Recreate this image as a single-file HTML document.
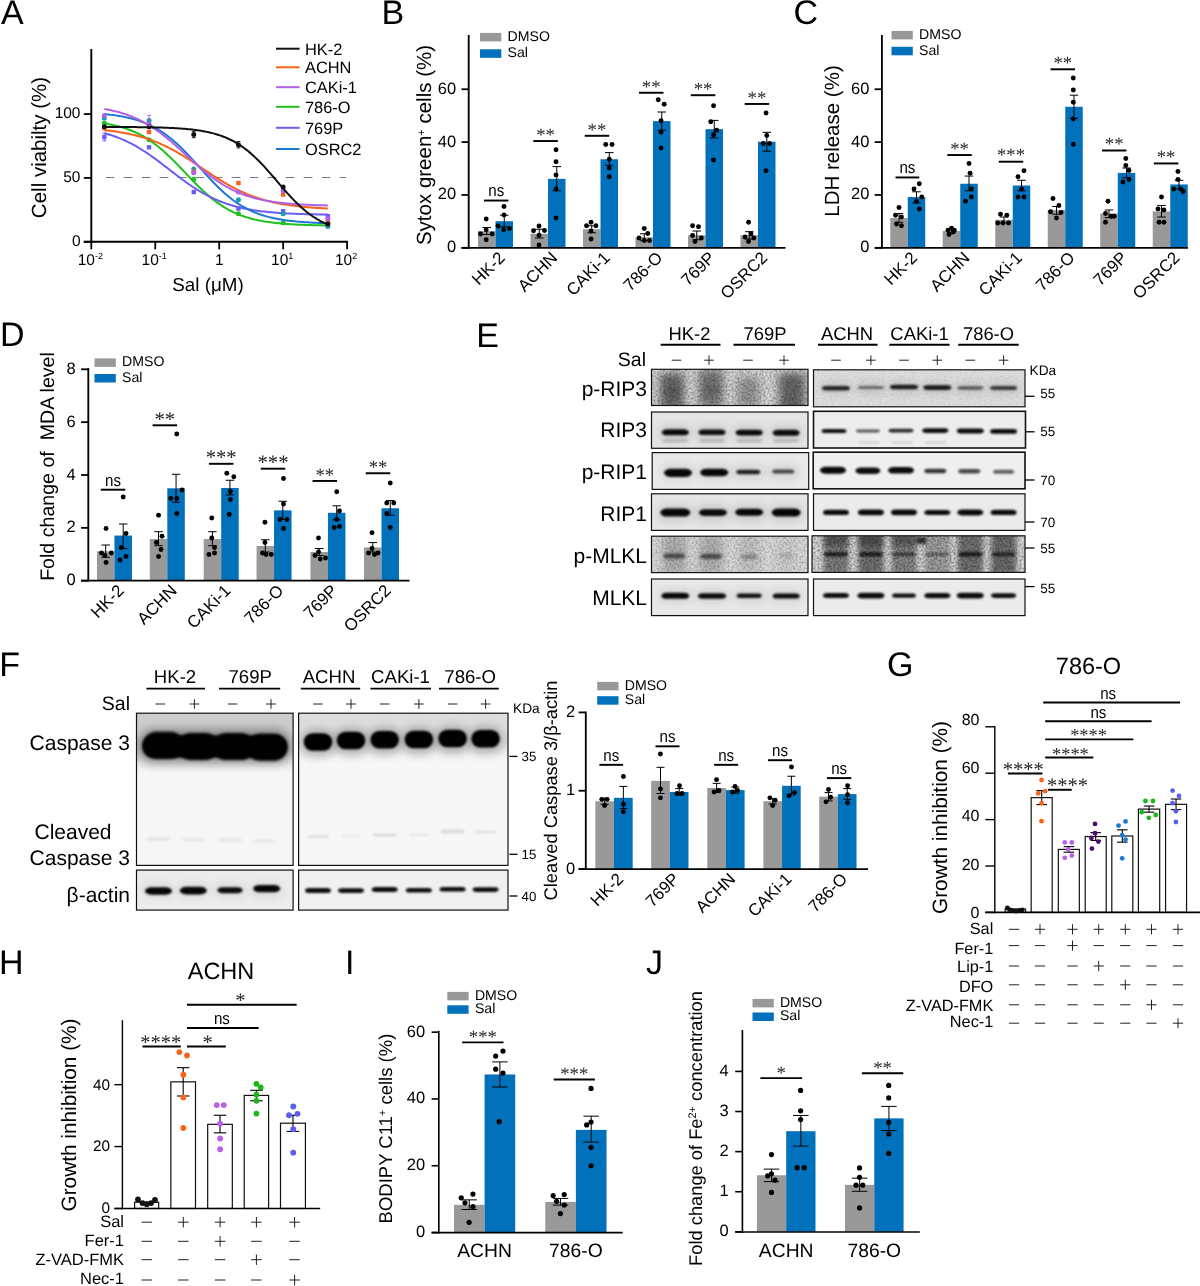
<!DOCTYPE html>
<html><head><meta charset="utf-8"><title>Figure</title><style>html,body{margin:0;padding:0;background:#fff}svg{display:block;will-change:transform;opacity:0.9999}</style></head><body><svg width="1200" height="1286" viewBox="0 0 1200 1286" text-rendering="geometricPrecision" shape-rendering="geometricPrecision"><defs><filter id="b06" x="-30%" y="-100%" width="160%" height="300%"><feGaussianBlur stdDeviation="0.6"/></filter><filter id="b09" x="-30%" y="-100%" width="160%" height="300%"><feGaussianBlur stdDeviation="0.9"/></filter><filter id="b12" x="-30%" y="-100%" width="160%" height="300%"><feGaussianBlur stdDeviation="1.2"/></filter><filter id="b16" x="-30%" y="-100%" width="160%" height="300%"><feGaussianBlur stdDeviation="1.6"/></filter><filter id="b25" x="-30%" y="-100%" width="160%" height="300%"><feGaussianBlur stdDeviation="2.5"/></filter><filter id="b40" x="-30%" y="-100%" width="160%" height="300%"><feGaussianBlur stdDeviation="4.0"/></filter><filter id="b70" x="-30%" y="-100%" width="160%" height="300%"><feGaussianBlur stdDeviation="7.0"/></filter><filter id="nzA" x="0" y="0" width="100%" height="100%" color-interpolation-filters="sRGB"><feTurbulence type="fractalNoise" baseFrequency="0.5" numOctaves="2" seed="4"/><feColorMatrix type="matrix" values="0 0 0 0 0  0 0 0 0 0  0 0 0 0 0  1.7 0 0 0 -0.62"/><feGaussianBlur stdDeviation="0.7"/></filter><filter id="nzB" x="0" y="0" width="100%" height="100%" color-interpolation-filters="sRGB"><feTurbulence type="fractalNoise" baseFrequency="0.5" numOctaves="2" seed="9"/><feColorMatrix type="matrix" values="0 0 0 0 0  0 0 0 0 0  0 0 0 0 0  1.5 0 0 0 -0.58"/><feGaussianBlur stdDeviation="0.7"/></filter><filter id="nzC" x="0" y="0" width="100%" height="100%" color-interpolation-filters="sRGB"><feTurbulence type="fractalNoise" baseFrequency="0.5" numOctaves="2" seed="2"/><feColorMatrix type="matrix" values="0 0 0 0 0  0 0 0 0 0  0 0 0 0 0  1.0 0 0 0 -0.4"/><feGaussianBlur stdDeviation="0.6"/></filter><clipPath id="cp1"><rect x="651.5" y="369.3" width="156.5" height="36.2"/></clipPath><clipPath id="cp2"><rect x="813.5" y="369.8" width="211.5" height="37"/></clipPath><clipPath id="cp3"><rect x="651.5" y="412" width="156.5" height="36.3"/></clipPath><clipPath id="cp4"><rect x="813.5" y="411.3" width="212" height="36.7"/></clipPath><clipPath id="cp5"><rect x="652.2" y="452.6" width="156.5" height="36.8"/></clipPath><clipPath id="cp6"><rect x="813.2" y="452.2" width="211.8" height="36.6"/></clipPath><clipPath id="cp7"><rect x="651.5" y="493.8" width="156.5" height="36.6"/></clipPath><clipPath id="cp8"><rect x="813.5" y="493.8" width="211.5" height="36.6"/></clipPath><clipPath id="cp9"><rect x="651.5" y="536.2" width="156.5" height="36.4"/></clipPath><clipPath id="cp10"><rect x="812" y="535.8" width="213" height="36.6"/></clipPath><clipPath id="cp11"><rect x="651.5" y="579" width="156.5" height="36.6"/></clipPath><clipPath id="cp12"><rect x="813.5" y="579" width="211.5" height="36.6"/></clipPath><clipPath id="cp13"><rect x="136.5" y="713.2" width="156.6" height="152.2"/></clipPath><clipPath id="cp14"><rect x="298.6" y="713.2" width="209.4" height="152.2"/></clipPath><clipPath id="cp15"><rect x="136.5" y="870.1" width="156.6" height="40"/></clipPath><clipPath id="cp16"><rect x="298.6" y="870.1" width="209.4" height="40"/></clipPath></defs><rect width="1200" height="1286" fill="#fff"/><text x="1" y="24.3" font-size="34" text-anchor="start" font-family='"Liberation Sans", sans-serif' fill="#000" >A</text>
<text x="381.5" y="24.3" font-size="34" text-anchor="start" font-family='"Liberation Sans", sans-serif' fill="#000" >B</text>
<text x="793.5" y="24.3" font-size="34" text-anchor="start" font-family='"Liberation Sans", sans-serif' fill="#000" >C</text>
<text x="0" y="346" font-size="34" text-anchor="start" font-family='"Liberation Sans", sans-serif' fill="#000" >D</text>
<line x1="91.3" y1="49" x2="91.3" y2="242.7" stroke="#000" stroke-width="1.9" stroke-linecap="butt" />
<line x1="83.8" y1="241.8" x2="347.9" y2="241.8" stroke="#000" stroke-width="1.9" stroke-linecap="butt" />
<line x1="83.8" y1="114.1" x2="91.3" y2="114.1" stroke="#000" stroke-width="1.8" stroke-linecap="butt" />
<text x="80.5" y="118.3" font-size="15.5" text-anchor="end" font-family='"Liberation Sans", sans-serif' fill="#000" >100</text>
<line x1="83.8" y1="177.95" x2="91.3" y2="177.95" stroke="#000" stroke-width="1.8" stroke-linecap="butt" />
<text x="80.5" y="182.15" font-size="15.5" text-anchor="end" font-family='"Liberation Sans", sans-serif' fill="#000" >50</text>
<line x1="83.8" y1="241.8" x2="91.3" y2="241.8" stroke="#000" stroke-width="1.8" stroke-linecap="butt" />
<text x="80.5" y="246" font-size="15.5" text-anchor="end" font-family='"Liberation Sans", sans-serif' fill="#000" >0</text>
<line x1="91.3" y1="241.8" x2="91.3" y2="249.3" stroke="#000" stroke-width="1.8" stroke-linecap="butt" />
<text x="90.3" y="265.3" font-size="15.5" text-anchor="middle" font-family='"Liberation Sans", sans-serif' fill="#000">10<tspan font-size="9" dy="-6.5">-2</tspan></text>
<line x1="155.25" y1="241.8" x2="155.25" y2="249.3" stroke="#000" stroke-width="1.8" stroke-linecap="butt" />
<text x="154.25" y="265.3" font-size="15.5" text-anchor="middle" font-family='"Liberation Sans", sans-serif' fill="#000">10<tspan font-size="9" dy="-6.5">-1</tspan></text>
<line x1="219.2" y1="241.8" x2="219.2" y2="249.3" stroke="#000" stroke-width="1.8" stroke-linecap="butt" />
<text x="219.2" y="265.3" font-size="15.5" text-anchor="middle" font-family='"Liberation Sans", sans-serif' fill="#000" >1</text>
<line x1="283.15" y1="241.8" x2="283.15" y2="249.3" stroke="#000" stroke-width="1.8" stroke-linecap="butt" />
<text x="282.15" y="265.3" font-size="15.5" text-anchor="middle" font-family='"Liberation Sans", sans-serif' fill="#000">10<tspan font-size="9" dy="-6.5">1</tspan></text>
<line x1="347.1" y1="241.8" x2="347.1" y2="249.3" stroke="#000" stroke-width="1.8" stroke-linecap="butt" />
<text x="346.1" y="265.3" font-size="15.5" text-anchor="middle" font-family='"Liberation Sans", sans-serif' fill="#000">10<tspan font-size="9" dy="-6.5">2</tspan></text>
<line x1="105.7" y1="177.5" x2="346" y2="177.5" stroke="#777" stroke-width="1" stroke-linecap="butt" stroke-dasharray="8.7 9.3"/>
<text x="46" y="147.5" font-size="20.5" text-anchor="middle" font-family='"Liberation Sans", sans-serif' fill="#000" transform="rotate(-90 46 147.5)" >Cell viabilty (%)</text>
<text x="208" y="291" font-size="18.8" text-anchor="middle" font-family='"Liberation Sans", sans-serif' fill="#000" >Sal (μM)</text>
<path d="M104.35 123.41 L106.22 123.71 L108.08 124.04 L109.94 124.4 L111.8 124.77 L113.67 125.17 L115.53 125.6 L117.39 126.06 L119.25 126.55 L121.12 127.07 L122.98 127.62 L124.84 128.21 L126.7 128.84 L128.57 129.51 L130.43 130.22 L132.29 130.96 L134.15 131.76 L136.02 132.6 L137.88 133.49 L139.74 134.42 L141.6 135.41 L143.47 136.45 L145.33 137.55 L147.19 138.69 L149.05 139.89 L150.92 141.15 L152.78 142.47 L154.64 143.84 L156.5 145.26 L158.36 146.74 L160.23 148.27 L162.09 149.86 L163.95 151.49 L165.81 153.18 L167.68 154.91 L169.54 156.68 L171.4 158.49 L173.26 160.34 L175.13 162.22 L176.99 164.12 L178.85 166.05 L180.71 168 L182.58 169.95 L184.44 171.92 L186.3 173.89 L188.16 175.85 L190.03 177.8 L191.89 179.74 L193.75 181.66 L195.61 183.56 L197.48 185.42 L199.34 187.26 L201.2 189.05 L203.06 190.81 L204.93 192.52 L206.79 194.19 L208.65 195.81 L210.51 197.37 L212.38 198.88 L214.24 200.34 L216.1 201.75 L217.96 203.09 L219.83 204.39 L221.69 205.62 L223.55 206.8 L225.41 207.93 L227.28 209 L229.14 210.02 L231 210.99 L232.86 211.91 L234.73 212.78 L236.59 213.6 L238.45 214.38 L240.31 215.11 L242.18 215.8 L244.04 216.45 L245.9 217.06 L247.76 217.64 L249.63 218.18 L251.49 218.69 L253.35 219.16 L255.21 219.61 L257.08 220.03 L258.94 220.42 L260.8 220.79 L262.66 221.13 L264.53 221.45 L266.39 221.75 L268.25 222.03 L270.11 222.29 L271.98 222.54 L273.84 222.77 L275.7 222.98 L277.56 223.18 L279.43 223.36 L281.29 223.53 L283.15 223.69 L285.01 223.84 L286.87 223.98 L288.74 224.11 L290.6 224.23 L292.46 224.35 L294.32 224.45 L296.19 224.55 L298.05 224.64 L299.91 224.72 L301.77 224.8 L303.64 224.87 L305.5 224.94 L307.36 225.01 L309.22 225.06 L311.09 225.12 L312.95 225.17 L314.81 225.22 L316.67 225.26 L318.54 225.3 L320.4 225.34 L322.26 225.37 L324.12 225.41 L325.99 225.44 L327.85 225.47" fill="none" stroke="#1fc11f" stroke-width="2.0"/>
<circle cx="104.35" cy="123.04" r="2.5" fill="#1fc11f"/>
<circle cx="149.05" cy="139.64" r="2.5" fill="#1fc11f"/>
<circle cx="193.75" cy="179.23" r="2.5" fill="#1fc11f"/>
<circle cx="238.45" cy="213.71" r="2.5" fill="#1fc11f"/>
<circle cx="283.15" cy="222.65" r="2.5" fill="#1fc11f"/>
<circle cx="327.85" cy="222.65" r="2.5" fill="#1fc11f"/>
<path d="M104.35 133.15 L106.22 133.67 L108.08 134.22 L109.94 134.8 L111.8 135.4 L113.67 136.04 L115.53 136.7 L117.39 137.4 L119.25 138.13 L121.12 138.89 L122.98 139.69 L124.84 140.52 L126.7 141.38 L128.57 142.28 L130.43 143.22 L132.29 144.19 L134.15 145.2 L136.02 146.24 L137.88 147.32 L139.74 148.43 L141.6 149.57 L143.47 150.75 L145.33 151.96 L147.19 153.19 L149.05 154.46 L150.92 155.76 L152.78 157.08 L154.64 158.42 L156.5 159.79 L158.36 161.17 L160.23 162.58 L162.09 163.99 L163.95 165.42 L165.81 166.85 L167.68 168.29 L169.54 169.74 L171.4 171.18 L173.26 172.62 L175.13 174.06 L176.99 175.48 L178.85 176.9 L180.71 178.29 L182.58 179.68 L184.44 181.04 L186.3 182.38 L188.16 183.7 L190.03 184.99 L191.89 186.26 L193.75 187.49 L195.61 188.7 L197.48 189.87 L199.34 191.01 L201.2 192.12 L203.06 193.19 L204.93 194.23 L206.79 195.23 L208.65 196.19 L210.51 197.13 L212.38 198.02 L214.24 198.88 L216.1 199.71 L217.96 200.5 L219.83 201.26 L221.69 201.99 L223.55 202.68 L225.41 203.34 L227.28 203.97 L229.14 204.57 L231 205.15 L232.86 205.69 L234.73 206.21 L236.59 206.7 L238.45 207.17 L240.31 207.61 L242.18 208.03 L244.04 208.43 L245.9 208.81 L247.76 209.16 L249.63 209.5 L251.49 209.82 L253.35 210.12 L255.21 210.41 L257.08 210.68 L258.94 210.93 L260.8 211.17 L262.66 211.4 L264.53 211.61 L266.39 211.81 L268.25 212 L270.11 212.18 L271.98 212.35 L273.84 212.5 L275.7 212.65 L277.56 212.79 L279.43 212.93 L281.29 213.05 L283.15 213.17 L285.01 213.28 L286.87 213.38 L288.74 213.48 L290.6 213.57 L292.46 213.65 L294.32 213.74 L296.19 213.81 L298.05 213.88 L299.91 213.95 L301.77 214.01 L303.64 214.07 L305.5 214.13 L307.36 214.18 L309.22 214.23 L311.09 214.28 L312.95 214.32 L314.81 214.36 L316.67 214.4 L318.54 214.43 L320.4 214.47 L322.26 214.5 L324.12 214.53 L325.99 214.56 L327.85 214.58" fill="none" stroke="#6b5cf6" stroke-width="2.0"/>
<rect x="102.15" y="134.89" width="4.4" height="4.4" fill="#6b5cf6" stroke="none" stroke-width="0" />
<rect x="146.85" y="145.1" width="4.4" height="4.4" fill="#6b5cf6" stroke="none" stroke-width="0" />
<rect x="191.55" y="189.8" width="4.4" height="4.4" fill="#6b5cf6" stroke="none" stroke-width="0" />
<rect x="236.25" y="206.4" width="4.4" height="4.4" fill="#6b5cf6" stroke="none" stroke-width="0" />
<rect x="280.95" y="208.95" width="4.4" height="4.4" fill="#6b5cf6" stroke="none" stroke-width="0" />
<rect x="325.65" y="214.06" width="4.4" height="4.4" fill="#6b5cf6" stroke="none" stroke-width="0" />
<path d="M104.35 114.04 L106.22 114.22 L108.08 114.42 L109.94 114.64 L111.8 114.87 L113.67 115.11 L115.53 115.38 L117.39 115.66 L119.25 115.96 L121.12 116.29 L122.98 116.63 L124.84 117 L126.7 117.4 L128.57 117.82 L130.43 118.28 L132.29 118.76 L134.15 119.27 L136.02 119.82 L137.88 120.4 L139.74 121.02 L141.6 121.69 L143.47 122.39 L145.33 123.13 L147.19 123.92 L149.05 124.76 L150.92 125.64 L152.78 126.57 L154.64 127.56 L156.5 128.6 L158.36 129.7 L160.23 130.85 L162.09 132.05 L163.95 133.32 L165.81 134.65 L167.68 136.03 L169.54 137.47 L171.4 138.97 L173.26 140.53 L175.13 142.14 L176.99 143.81 L178.85 145.54 L180.71 147.31 L182.58 149.13 L184.44 151 L186.3 152.91 L188.16 154.85 L190.03 156.83 L191.89 158.84 L193.75 160.87 L195.61 162.92 L197.48 164.99 L199.34 167.06 L201.2 169.13 L203.06 171.2 L204.93 173.25 L206.79 175.3 L208.65 177.32 L210.51 179.32 L212.38 181.29 L214.24 183.22 L216.1 185.12 L217.96 186.97 L219.83 188.78 L221.69 190.53 L223.55 192.24 L225.41 193.89 L227.28 195.48 L229.14 197.02 L231 198.5 L232.86 199.92 L234.73 201.29 L236.59 202.59 L238.45 203.84 L240.31 205.02 L242.18 206.16 L244.04 207.23 L245.9 208.25 L247.76 209.22 L249.63 210.14 L251.49 211.01 L253.35 211.83 L255.21 212.6 L257.08 213.33 L258.94 214.02 L260.8 214.66 L262.66 215.27 L264.53 215.84 L266.39 216.38 L268.25 216.88 L270.11 217.35 L271.98 217.79 L273.84 218.21 L275.7 218.59 L277.56 218.96 L279.43 219.29 L281.29 219.61 L283.15 219.91 L285.01 220.18 L286.87 220.44 L288.74 220.68 L290.6 220.9 L292.46 221.11 L294.32 221.31 L296.19 221.49 L298.05 221.66 L299.91 221.82 L301.77 221.97 L303.64 222.1 L305.5 222.23 L307.36 222.35 L309.22 222.46 L311.09 222.56 L312.95 222.66 L314.81 222.75 L316.67 222.83 L318.54 222.91 L320.4 222.98 L322.26 223.04 L324.12 223.11 L325.99 223.16 L327.85 223.22" fill="none" stroke="#1b79cf" stroke-width="2.0"/>
<circle cx="104.35" cy="117.93" r="2.5" fill="#1a9aae"/>
<circle cx="149.05" cy="120.49" r="2.5" fill="#1a9aae"/>
<circle cx="193.75" cy="169.01" r="2.5" fill="#1a9aae"/>
<circle cx="238.45" cy="199.66" r="2.5" fill="#1a9aae"/>
<circle cx="283.15" cy="213.71" r="2.5" fill="#1a9aae"/>
<circle cx="327.85" cy="226.48" r="2.5" fill="#1a9aae"/>
<path d="M104.35 130.19 L106.22 130.39 L108.08 130.6 L109.94 130.82 L111.8 131.06 L113.67 131.3 L115.53 131.56 L117.39 131.84 L119.25 132.13 L121.12 132.43 L122.98 132.75 L124.84 133.09 L126.7 133.45 L128.57 133.82 L130.43 134.22 L132.29 134.63 L134.15 135.07 L136.02 135.52 L137.88 136 L139.74 136.5 L141.6 137.03 L143.47 137.58 L145.33 138.16 L147.19 138.76 L149.05 139.39 L150.92 140.04 L152.78 140.72 L154.64 141.43 L156.5 142.17 L158.36 142.94 L160.23 143.74 L162.09 144.56 L163.95 145.42 L165.81 146.3 L167.68 147.21 L169.54 148.15 L171.4 149.12 L173.26 150.12 L175.13 151.14 L176.99 152.19 L178.85 153.27 L180.71 154.37 L182.58 155.49 L184.44 156.63 L186.3 157.79 L188.16 158.97 L190.03 160.17 L191.89 161.38 L193.75 162.6 L195.61 163.83 L197.48 165.07 L199.34 166.32 L201.2 167.57 L203.06 168.82 L204.93 170.07 L206.79 171.32 L208.65 172.57 L210.51 173.8 L212.38 175.03 L214.24 176.24 L216.1 177.44 L217.96 178.63 L219.83 179.79 L221.69 180.94 L223.55 182.07 L225.41 183.17 L227.28 184.25 L229.14 185.31 L231 186.34 L232.86 187.35 L234.73 188.32 L236.59 189.27 L238.45 190.19 L240.31 191.08 L242.18 191.95 L244.04 192.78 L245.9 193.58 L247.76 194.36 L249.63 195.11 L251.49 195.83 L253.35 196.52 L255.21 197.18 L257.08 197.81 L258.94 198.42 L260.8 199.01 L262.66 199.56 L264.53 200.1 L266.39 200.61 L268.25 201.09 L270.11 201.55 L271.98 202 L273.84 202.42 L275.7 202.81 L277.56 203.2 L279.43 203.56 L281.29 203.9 L283.15 204.23 L285.01 204.54 L286.87 204.83 L288.74 205.11 L290.6 205.37 L292.46 205.62 L294.32 205.86 L296.19 206.08 L298.05 206.3 L299.91 206.5 L301.77 206.69 L303.64 206.87 L305.5 207.04 L307.36 207.2 L309.22 207.35 L311.09 207.49 L312.95 207.63 L314.81 207.76 L316.67 207.88 L318.54 207.99 L320.4 208.1 L322.26 208.2 L324.12 208.3 L325.99 208.39 L327.85 208.48" fill="none" stroke="#f7621a" stroke-width="2.0"/>
<rect x="102.15" y="125.95" width="4.4" height="4.4" fill="#f7621a" stroke="none" stroke-width="0" />
<rect x="146.85" y="129.78" width="4.4" height="4.4" fill="#f7621a" stroke="none" stroke-width="0" />
<rect x="191.55" y="169.37" width="4.4" height="4.4" fill="#f7621a" stroke="none" stroke-width="0" />
<rect x="236.25" y="180.86" width="4.4" height="4.4" fill="#f7621a" stroke="none" stroke-width="0" />
<rect x="280.95" y="192.35" width="4.4" height="4.4" fill="#f7621a" stroke="none" stroke-width="0" />
<rect x="325.65" y="217.89" width="4.4" height="4.4" fill="#f7621a" stroke="none" stroke-width="0" />
<path d="M104.35 109.01 L106.22 109.34 L108.08 109.7 L109.94 110.08 L111.8 110.48 L113.67 110.91 L115.53 111.36 L117.39 111.84 L119.25 112.34 L121.12 112.88 L122.98 113.45 L124.84 114.04 L126.7 114.67 L128.57 115.34 L130.43 116.04 L132.29 116.77 L134.15 117.55 L136.02 118.36 L137.88 119.21 L139.74 120.11 L141.6 121.05 L143.47 122.02 L145.33 123.05 L147.19 124.11 L149.05 125.22 L150.92 126.38 L152.78 127.58 L154.64 128.82 L156.5 130.1 L158.36 131.43 L160.23 132.8 L162.09 134.21 L163.95 135.66 L165.81 137.15 L167.68 138.67 L169.54 140.22 L171.4 141.81 L173.26 143.42 L175.13 145.06 L176.99 146.72 L178.85 148.39 L180.71 150.08 L182.58 151.79 L184.44 153.49 L186.3 155.21 L188.16 156.92 L190.03 158.63 L191.89 160.32 L193.75 162.01 L195.61 163.68 L197.48 165.34 L199.34 166.97 L201.2 168.57 L203.06 170.15 L204.93 171.69 L206.79 173.21 L208.65 174.68 L210.51 176.12 L212.38 177.52 L214.24 178.88 L216.1 180.19 L217.96 181.47 L219.83 182.7 L221.69 183.88 L223.55 185.02 L225.41 186.12 L227.28 187.17 L229.14 188.18 L231 189.15 L232.86 190.08 L234.73 190.96 L236.59 191.8 L238.45 192.6 L240.31 193.37 L242.18 194.09 L244.04 194.78 L245.9 195.44 L247.76 196.06 L249.63 196.65 L251.49 197.2 L253.35 197.73 L255.21 198.23 L257.08 198.7 L258.94 199.14 L260.8 199.56 L262.66 199.96 L264.53 200.33 L266.39 200.68 L268.25 201.01 L270.11 201.32 L271.98 201.62 L273.84 201.89 L275.7 202.15 L277.56 202.39 L279.43 202.62 L281.29 202.84 L283.15 203.04 L285.01 203.23 L286.87 203.41 L288.74 203.57 L290.6 203.73 L292.46 203.88 L294.32 204.02 L296.19 204.14 L298.05 204.27 L299.91 204.38 L301.77 204.49 L303.64 204.58 L305.5 204.68 L307.36 204.77 L309.22 204.85 L311.09 204.92 L312.95 205 L314.81 205.06 L316.67 205.13 L318.54 205.19 L320.4 205.24 L322.26 205.29 L324.12 205.34 L325.99 205.39 L327.85 205.43" fill="none" stroke="#b35fe6" stroke-width="2.0"/>
<circle cx="104.35" cy="115.38" r="2.5" fill="#b35fe6"/>
<circle cx="149.05" cy="124.32" r="2.5" fill="#b35fe6"/>
<circle cx="193.75" cy="172.84" r="2.5" fill="#b35fe6"/>
<circle cx="238.45" cy="192" r="2.5" fill="#b35fe6"/>
<circle cx="283.15" cy="190.72" r="2.5" fill="#b35fe6"/>
<circle cx="327.85" cy="218.81" r="2.5" fill="#b35fe6"/>
<path d="M104.35 126.93 L106.22 126.94 L108.08 126.94 L109.94 126.95 L111.8 126.96 L113.67 126.96 L115.53 126.97 L117.39 126.98 L119.25 126.99 L121.12 127 L122.98 127.01 L124.84 127.02 L126.7 127.03 L128.57 127.05 L130.43 127.06 L132.29 127.08 L134.15 127.1 L136.02 127.12 L137.88 127.14 L139.74 127.16 L141.6 127.18 L143.47 127.21 L145.33 127.24 L147.19 127.27 L149.05 127.3 L150.92 127.34 L152.78 127.38 L154.64 127.42 L156.5 127.46 L158.36 127.51 L160.23 127.57 L162.09 127.62 L163.95 127.69 L165.81 127.75 L167.68 127.83 L169.54 127.91 L171.4 127.99 L173.26 128.09 L175.13 128.19 L176.99 128.3 L178.85 128.41 L180.71 128.54 L182.58 128.68 L184.44 128.83 L186.3 128.99 L188.16 129.16 L190.03 129.35 L191.89 129.55 L193.75 129.77 L195.61 130.01 L197.48 130.26 L199.34 130.54 L201.2 130.83 L203.06 131.15 L204.93 131.5 L206.79 131.87 L208.65 132.26 L210.51 132.69 L212.38 133.15 L214.24 133.64 L216.1 134.17 L217.96 134.74 L219.83 135.35 L221.69 136 L223.55 136.7 L225.41 137.44 L227.28 138.23 L229.14 139.08 L231 139.98 L232.86 140.93 L234.73 141.95 L236.59 143.02 L238.45 144.16 L240.31 145.36 L242.18 146.63 L244.04 147.96 L245.9 149.36 L247.76 150.83 L249.63 152.37 L251.49 153.97 L253.35 155.64 L255.21 157.38 L257.08 159.17 L258.94 161.03 L260.8 162.94 L262.66 164.9 L264.53 166.91 L266.39 168.97 L268.25 171.06 L270.11 173.18 L271.98 175.33 L273.84 177.5 L275.7 179.67 L277.56 181.86 L279.43 184.04 L281.29 186.21 L283.15 188.37 L285.01 190.5 L286.87 192.6 L288.74 194.67 L290.6 196.7 L292.46 198.68 L294.32 200.61 L296.19 202.48 L298.05 204.3 L299.91 206.05 L301.77 207.74 L303.64 209.37 L305.5 210.93 L307.36 212.42 L309.22 213.85 L311.09 215.2 L312.95 216.49 L314.81 217.72 L316.67 218.88 L318.54 219.97 L320.4 221.01 L322.26 221.99 L324.12 222.9 L325.99 223.77 L327.85 224.58" fill="none" stroke="#111111" stroke-width="2.0"/>
<circle cx="104.35" cy="126.87" r="2.5" fill="#111111"/>
<circle cx="149.05" cy="126.87" r="2.5" fill="#111111"/>
<circle cx="193.75" cy="134.53" r="2.5" fill="#111111"/>
<circle cx="238.45" cy="144.75" r="2.5" fill="#111111"/>
<circle cx="283.15" cy="186.89" r="2.5" fill="#111111"/>
<circle cx="327.85" cy="223.92" r="2.5" fill="#111111"/>
<line x1="149.05" y1="115.38" x2="149.05" y2="125.59" stroke="#b35fe6" stroke-width="0.9" stroke-linecap="butt" />
<line x1="147.05" y1="115.38" x2="151.05" y2="115.38" stroke="#b35fe6" stroke-width="0.9" stroke-linecap="butt" />
<line x1="147.05" y1="125.59" x2="151.05" y2="125.59" stroke="#b35fe6" stroke-width="0.9" stroke-linecap="butt" />
<line x1="193.75" y1="131.34" x2="193.75" y2="137.72" stroke="#111" stroke-width="0.9" stroke-linecap="butt" />
<line x1="191.75" y1="131.34" x2="195.75" y2="131.34" stroke="#111" stroke-width="0.9" stroke-linecap="butt" />
<line x1="191.75" y1="137.72" x2="195.75" y2="137.72" stroke="#111" stroke-width="0.9" stroke-linecap="butt" />
<line x1="238.45" y1="141.56" x2="238.45" y2="147.94" stroke="#111" stroke-width="0.9" stroke-linecap="butt" />
<line x1="236.45" y1="141.56" x2="240.45" y2="141.56" stroke="#111" stroke-width="0.9" stroke-linecap="butt" />
<line x1="236.45" y1="147.94" x2="240.45" y2="147.94" stroke="#111" stroke-width="0.9" stroke-linecap="butt" />
<line x1="104.35" y1="133.26" x2="104.35" y2="140.92" stroke="#6b5cf6" stroke-width="0.9" stroke-linecap="butt" />
<line x1="102.35" y1="133.26" x2="106.35" y2="133.26" stroke="#6b5cf6" stroke-width="0.9" stroke-linecap="butt" />
<line x1="102.35" y1="140.92" x2="106.35" y2="140.92" stroke="#6b5cf6" stroke-width="0.9" stroke-linecap="butt" />
<line x1="276" y1="48.7" x2="299.6" y2="48.7" stroke="#111111" stroke-width="2" stroke-linecap="butt" />
<text x="305" y="54.5" font-size="16.4" text-anchor="start" font-family='"Liberation Sans", sans-serif' fill="#000" >HK-2</text>
<line x1="276" y1="67.3" x2="299.6" y2="67.3" stroke="#f7621a" stroke-width="2" stroke-linecap="butt" />
<text x="305" y="73.1" font-size="16.4" text-anchor="start" font-family='"Liberation Sans", sans-serif' fill="#000" >ACHN</text>
<line x1="276" y1="87.2" x2="299.6" y2="87.2" stroke="#b35fe6" stroke-width="2" stroke-linecap="butt" />
<text x="305" y="93" font-size="16.4" text-anchor="start" font-family='"Liberation Sans", sans-serif' fill="#000" >CAKi-1</text>
<line x1="276" y1="106.8" x2="299.6" y2="106.8" stroke="#1fc11f" stroke-width="2" stroke-linecap="butt" />
<text x="305" y="112.6" font-size="16.4" text-anchor="start" font-family='"Liberation Sans", sans-serif' fill="#000" >786-O</text>
<line x1="276" y1="127.8" x2="299.6" y2="127.8" stroke="#6b5cf6" stroke-width="2" stroke-linecap="butt" />
<text x="305" y="133.6" font-size="16.4" text-anchor="start" font-family='"Liberation Sans", sans-serif' fill="#000" >769P</text>
<line x1="276" y1="149" x2="299.6" y2="149" stroke="#1b79cf" stroke-width="2" stroke-linecap="butt" />
<text x="305" y="154.8" font-size="16.4" text-anchor="start" font-family='"Liberation Sans", sans-serif' fill="#000" >OSRC2</text>
<rect x="478" y="231" width="17.5" height="16.8" fill="#999999" stroke="none" stroke-width="0" />
<rect x="495.5" y="221.2" width="17.5" height="26.6" fill="#0071bc" stroke="none" stroke-width="0" />
<rect x="530.5" y="233.8" width="17.5" height="14" fill="#999999" stroke="none" stroke-width="0" />
<rect x="548" y="178.85" width="17.5" height="68.95" fill="#0071bc" stroke="none" stroke-width="0" />
<rect x="583" y="229.25" width="17.5" height="18.55" fill="#999999" stroke="none" stroke-width="0" />
<rect x="600.5" y="159.25" width="17.5" height="88.55" fill="#0071bc" stroke="none" stroke-width="0" />
<rect x="635.5" y="237.3" width="17.5" height="10.5" fill="#999999" stroke="none" stroke-width="0" />
<rect x="653" y="121.1" width="17.5" height="126.7" fill="#0071bc" stroke="none" stroke-width="0" />
<rect x="688" y="235.2" width="17.5" height="12.6" fill="#999999" stroke="none" stroke-width="0" />
<rect x="705.5" y="129.15" width="17.5" height="118.65" fill="#0071bc" stroke="none" stroke-width="0" />
<rect x="740.5" y="235.2" width="17.5" height="12.6" fill="#999999" stroke="none" stroke-width="0" />
<rect x="758" y="141.75" width="17.5" height="106.05" fill="#0071bc" stroke="none" stroke-width="0" />
<line x1="468.7" y1="35" x2="468.7" y2="248.7" stroke="#000" stroke-width="1.85" stroke-linecap="butt" />
<line x1="461.5" y1="247.8" x2="785.5" y2="247.8" stroke="#000" stroke-width="1.75" stroke-linecap="butt" />
<line x1="461.5" y1="247.8" x2="468.7" y2="247.8" stroke="#000" stroke-width="1.8" stroke-linecap="butt" />
<text x="456.2" y="252.3" font-size="16.5" text-anchor="end" font-family='"Liberation Sans", sans-serif' fill="#000" >0</text>
<line x1="461.5" y1="194.95" x2="468.7" y2="194.95" stroke="#000" stroke-width="1.8" stroke-linecap="butt" />
<text x="456.2" y="199.45" font-size="16.5" text-anchor="end" font-family='"Liberation Sans", sans-serif' fill="#000" >20</text>
<line x1="461.5" y1="142.1" x2="468.7" y2="142.1" stroke="#000" stroke-width="1.8" stroke-linecap="butt" />
<text x="456.2" y="146.6" font-size="16.5" text-anchor="end" font-family='"Liberation Sans", sans-serif' fill="#000" >40</text>
<line x1="461.5" y1="89.25" x2="468.7" y2="89.25" stroke="#000" stroke-width="1.8" stroke-linecap="butt" />
<text x="456.2" y="93.75" font-size="16.5" text-anchor="end" font-family='"Liberation Sans", sans-serif' fill="#000" >60</text>
<line x1="486.75" y1="227.5" x2="486.75" y2="234.5" stroke="#000" stroke-width="1" stroke-linecap="butt" />
<line x1="482.5" y1="227.5" x2="491" y2="227.5" stroke="#000" stroke-width="1" stroke-linecap="butt" />
<line x1="482.5" y1="234.5" x2="491" y2="234.5" stroke="#000" stroke-width="1" stroke-linecap="butt" />
<line x1="504.25" y1="215.25" x2="504.25" y2="226.8" stroke="#000" stroke-width="1" stroke-linecap="butt" />
<line x1="500" y1="215.25" x2="508.5" y2="215.25" stroke="#000" stroke-width="1" stroke-linecap="butt" />
<line x1="500" y1="226.8" x2="508.5" y2="226.8" stroke="#000" stroke-width="1" stroke-linecap="butt" />
<circle cx="486.19" cy="219" r="2.45" fill="#000"/>
<circle cx="480.49" cy="234.01" r="2.45" fill="#000"/>
<circle cx="486.19" cy="229.7" r="2.45" fill="#000"/>
<circle cx="492.21" cy="234.01" r="2.45" fill="#000"/>
<circle cx="486.19" cy="239.71" r="2.45" fill="#000"/>
<circle cx="504" cy="206.5" r="2.45" fill="#000"/>
<circle cx="504" cy="215" r="2.45" fill="#000"/>
<circle cx="497.99" cy="226" r="2.45" fill="#000"/>
<circle cx="503.69" cy="229.7" r="2.45" fill="#000"/>
<circle cx="509.5" cy="228.51" r="2.45" fill="#000"/>
<line x1="483.95" y1="200.55" x2="508.45" y2="200.55" stroke="#000" stroke-width="1.95" stroke-linecap="butt" />
<text x="0" y="0" font-size="16.8" text-anchor="middle" font-family='"Liberation Sans", sans-serif' fill="#000" transform="translate(496.2 196.35) scale(0.9 1)" >ns</text>
<text x="506" y="258.8" font-size="16.9" text-anchor="end" font-family='"Liberation Sans", sans-serif' fill="#000" transform="rotate(-45 506 258.8)" >HK-2</text>
<line x1="539.25" y1="229.25" x2="539.25" y2="238" stroke="#000" stroke-width="1" stroke-linecap="butt" />
<line x1="535" y1="229.25" x2="543.5" y2="229.25" stroke="#000" stroke-width="1" stroke-linecap="butt" />
<line x1="535" y1="238" x2="543.5" y2="238" stroke="#000" stroke-width="1" stroke-linecap="butt" />
<line x1="556.75" y1="166.6" x2="556.75" y2="190.75" stroke="#000" stroke-width="1" stroke-linecap="butt" />
<line x1="552.5" y1="166.6" x2="561" y2="166.6" stroke="#000" stroke-width="1" stroke-linecap="butt" />
<line x1="552.5" y1="190.75" x2="561" y2="190.75" stroke="#000" stroke-width="1" stroke-linecap="butt" />
<circle cx="539" cy="226" r="2.45" fill="#000"/>
<circle cx="533.51" cy="230.69" r="2.45" fill="#000"/>
<circle cx="544.5" cy="230.51" r="2.45" fill="#000"/>
<circle cx="539" cy="235.2" r="2.45" fill="#000"/>
<circle cx="539" cy="245" r="2.45" fill="#000"/>
<circle cx="556.05" cy="149.8" r="2.45" fill="#000"/>
<circle cx="556.05" cy="161.7" r="2.45" fill="#000"/>
<circle cx="556.05" cy="175" r="2.45" fill="#000"/>
<circle cx="556.05" cy="189" r="2.45" fill="#000"/>
<circle cx="556.05" cy="218.05" r="2.45" fill="#000"/>
<line x1="533.3" y1="141.05" x2="557.8" y2="141.05" stroke="#000" stroke-width="1.95" stroke-linecap="butt" />
<text x="545.55" y="140.83" font-size="18.8" text-anchor="middle" font-family='"Liberation Serif", serif' fill="#222" >**</text>
<text x="558.5" y="258.8" font-size="16.9" text-anchor="end" font-family='"Liberation Sans", sans-serif' fill="#000" transform="rotate(-45 558.5 258.8)" >ACHN</text>
<line x1="591.75" y1="225.75" x2="591.75" y2="232.75" stroke="#000" stroke-width="1" stroke-linecap="butt" />
<line x1="587.5" y1="225.75" x2="596" y2="225.75" stroke="#000" stroke-width="1" stroke-linecap="butt" />
<line x1="587.5" y1="232.75" x2="596" y2="232.75" stroke="#000" stroke-width="1" stroke-linecap="butt" />
<line x1="609.25" y1="152.6" x2="609.25" y2="165.2" stroke="#000" stroke-width="1" stroke-linecap="butt" />
<line x1="605" y1="152.6" x2="613.5" y2="152.6" stroke="#000" stroke-width="1" stroke-linecap="butt" />
<line x1="605" y1="165.2" x2="613.5" y2="165.2" stroke="#000" stroke-width="1" stroke-linecap="butt" />
<circle cx="591.05" cy="222.25" r="2.45" fill="#000"/>
<circle cx="586.5" cy="225.75" r="2.45" fill="#000"/>
<circle cx="595.95" cy="225.75" r="2.45" fill="#000"/>
<circle cx="591.05" cy="231" r="2.45" fill="#000"/>
<circle cx="591.05" cy="239.05" r="2.45" fill="#000"/>
<circle cx="605.75" cy="144.55" r="2.45" fill="#000"/>
<circle cx="612.05" cy="144.55" r="2.45" fill="#000"/>
<circle cx="609.25" cy="159.25" r="2.45" fill="#000"/>
<circle cx="609.25" cy="168" r="2.45" fill="#000"/>
<circle cx="609.25" cy="176.75" r="2.45" fill="#000"/>
<line x1="584.75" y1="135.8" x2="609.25" y2="135.8" stroke="#000" stroke-width="1.95" stroke-linecap="butt" />
<text x="597" y="135.58" font-size="18.8" text-anchor="middle" font-family='"Liberation Serif", serif' fill="#222" >**</text>
<text x="611" y="258.8" font-size="16.9" text-anchor="end" font-family='"Liberation Sans", sans-serif' fill="#000" transform="rotate(-45 611 258.8)" >CAKi-1</text>
<line x1="644.25" y1="233.8" x2="644.25" y2="240.8" stroke="#000" stroke-width="1" stroke-linecap="butt" />
<line x1="640" y1="233.8" x2="648.5" y2="233.8" stroke="#000" stroke-width="1" stroke-linecap="butt" />
<line x1="640" y1="240.8" x2="648.5" y2="240.8" stroke="#000" stroke-width="1" stroke-linecap="butt" />
<line x1="661.75" y1="112" x2="661.75" y2="130.2" stroke="#000" stroke-width="1" stroke-linecap="butt" />
<line x1="657.5" y1="112" x2="666" y2="112" stroke="#000" stroke-width="1" stroke-linecap="butt" />
<line x1="657.5" y1="130.2" x2="666" y2="130.2" stroke="#000" stroke-width="1" stroke-linecap="butt" />
<circle cx="644.25" cy="228.55" r="2.45" fill="#000"/>
<circle cx="647.75" cy="233.45" r="2.45" fill="#000"/>
<circle cx="639" cy="238" r="2.45" fill="#000"/>
<circle cx="644.25" cy="240.45" r="2.45" fill="#000"/>
<circle cx="649.5" cy="240.45" r="2.45" fill="#000"/>
<circle cx="658.25" cy="99.75" r="2.45" fill="#000"/>
<circle cx="664.2" cy="104.3" r="2.45" fill="#000"/>
<circle cx="661.05" cy="120.75" r="2.45" fill="#000"/>
<circle cx="661.05" cy="132.3" r="2.45" fill="#000"/>
<circle cx="661.05" cy="148.05" r="2.45" fill="#000"/>
<line x1="639" y1="92.75" x2="663.5" y2="92.75" stroke="#000" stroke-width="1.95" stroke-linecap="butt" />
<text x="651.25" y="92.53" font-size="18.8" text-anchor="middle" font-family='"Liberation Serif", serif' fill="#222" >**</text>
<text x="663.5" y="258.8" font-size="16.9" text-anchor="end" font-family='"Liberation Sans", sans-serif' fill="#000" transform="rotate(-45 663.5 258.8)" >786-O</text>
<line x1="696.75" y1="231" x2="696.75" y2="239.75" stroke="#000" stroke-width="1" stroke-linecap="butt" />
<line x1="692.5" y1="231" x2="701" y2="231" stroke="#000" stroke-width="1" stroke-linecap="butt" />
<line x1="692.5" y1="239.75" x2="701" y2="239.75" stroke="#000" stroke-width="1" stroke-linecap="butt" />
<line x1="714.25" y1="120.4" x2="714.25" y2="137.9" stroke="#000" stroke-width="1" stroke-linecap="butt" />
<line x1="710" y1="120.4" x2="718.5" y2="120.4" stroke="#000" stroke-width="1" stroke-linecap="butt" />
<line x1="710" y1="137.9" x2="718.5" y2="137.9" stroke="#000" stroke-width="1" stroke-linecap="butt" />
<circle cx="692.55" cy="225.75" r="2.45" fill="#000"/>
<circle cx="698.5" cy="226.8" r="2.45" fill="#000"/>
<circle cx="692.55" cy="235.55" r="2.45" fill="#000"/>
<circle cx="701.3" cy="238" r="2.45" fill="#000"/>
<circle cx="695" cy="241.5" r="2.45" fill="#000"/>
<circle cx="713.55" cy="105.7" r="2.45" fill="#000"/>
<circle cx="710.75" cy="121.8" r="2.45" fill="#000"/>
<circle cx="716.7" cy="130.2" r="2.45" fill="#000"/>
<circle cx="713.55" cy="134.75" r="2.45" fill="#000"/>
<circle cx="713.55" cy="159.95" r="2.45" fill="#000"/>
<line x1="690.8" y1="95.2" x2="715.3" y2="95.2" stroke="#000" stroke-width="1.95" stroke-linecap="butt" />
<text x="703.05" y="94.98" font-size="18.8" text-anchor="middle" font-family='"Liberation Serif", serif' fill="#222" >**</text>
<text x="716" y="258.8" font-size="16.9" text-anchor="end" font-family='"Liberation Sans", sans-serif' fill="#000" transform="rotate(-45 716 258.8)" >769P</text>
<line x1="749.25" y1="231.7" x2="749.25" y2="239.05" stroke="#000" stroke-width="1" stroke-linecap="butt" />
<line x1="745" y1="231.7" x2="753.5" y2="231.7" stroke="#000" stroke-width="1" stroke-linecap="butt" />
<line x1="745" y1="239.05" x2="753.5" y2="239.05" stroke="#000" stroke-width="1" stroke-linecap="butt" />
<line x1="766.75" y1="132.3" x2="766.75" y2="151.2" stroke="#000" stroke-width="1" stroke-linecap="butt" />
<line x1="762.5" y1="132.3" x2="771" y2="132.3" stroke="#000" stroke-width="1" stroke-linecap="butt" />
<line x1="762.5" y1="151.2" x2="771" y2="151.2" stroke="#000" stroke-width="1" stroke-linecap="butt" />
<circle cx="748.55" cy="222.25" r="2.45" fill="#000"/>
<circle cx="751" cy="233.8" r="2.45" fill="#000"/>
<circle cx="745.05" cy="236.95" r="2.45" fill="#000"/>
<circle cx="753.8" cy="238" r="2.45" fill="#000"/>
<circle cx="748.55" cy="241.5" r="2.45" fill="#000"/>
<circle cx="766.05" cy="113.05" r="2.45" fill="#000"/>
<circle cx="766.75" cy="135.45" r="2.45" fill="#000"/>
<circle cx="763.25" cy="143.5" r="2.45" fill="#000"/>
<circle cx="769.55" cy="143.5" r="2.45" fill="#000"/>
<circle cx="766.05" cy="170.8" r="2.45" fill="#000"/>
<line x1="744.7" y1="103.95" x2="769.2" y2="103.95" stroke="#000" stroke-width="1.95" stroke-linecap="butt" />
<text x="756.95" y="103.73" font-size="18.8" text-anchor="middle" font-family='"Liberation Serif", serif' fill="#222" >**</text>
<text x="768.5" y="258.8" font-size="16.9" text-anchor="end" font-family='"Liberation Sans", sans-serif' fill="#000" transform="rotate(-45 768.5 258.8)" >OSRC2</text>
<rect x="480" y="32.9" width="21.3" height="8.5" fill="#999999" stroke="none" stroke-width="0" />
<rect x="480" y="49.3" width="21.3" height="8.5" fill="#0071bc" stroke="none" stroke-width="0" />
<text x="507.6" y="40.6" font-size="14.1" text-anchor="start" font-family='"Liberation Sans", sans-serif' fill="#000" >DMSO</text>
<text x="507.6" y="57.2" font-size="14.1" text-anchor="start" font-family='"Liberation Sans", sans-serif' fill="#000" >Sal</text>
<text x="431" y="145" font-size="20.5" text-anchor="middle" font-family='"Liberation Sans", sans-serif' fill="#000" transform="rotate(-90 431 145)">Sytox green<tspan font-size="11" dy="-6">+</tspan><tspan dy="6"> cells (%)</tspan></text>
<rect x="890.25" y="218.05" width="17.5" height="29.75" fill="#999999" stroke="none" stroke-width="0" />
<rect x="907.75" y="197.05" width="17.5" height="50.75" fill="#0071bc" stroke="none" stroke-width="0" />
<rect x="942.75" y="231" width="17.5" height="16.8" fill="#999999" stroke="none" stroke-width="0" />
<rect x="960.25" y="183.75" width="17.5" height="64.05" fill="#0071bc" stroke="none" stroke-width="0" />
<rect x="995.25" y="219.8" width="17.5" height="28" fill="#999999" stroke="none" stroke-width="0" />
<rect x="1012.75" y="185.5" width="17.5" height="62.3" fill="#0071bc" stroke="none" stroke-width="0" />
<rect x="1047.75" y="210" width="17.5" height="37.8" fill="#999999" stroke="none" stroke-width="0" />
<rect x="1065.25" y="106.75" width="17.5" height="141.05" fill="#0071bc" stroke="none" stroke-width="0" />
<rect x="1100.25" y="213.5" width="17.5" height="34.3" fill="#999999" stroke="none" stroke-width="0" />
<rect x="1117.75" y="172.9" width="17.5" height="74.9" fill="#0071bc" stroke="none" stroke-width="0" />
<rect x="1152.75" y="211.4" width="17.5" height="36.4" fill="#999999" stroke="none" stroke-width="0" />
<rect x="1170.25" y="184.45" width="17.5" height="63.35" fill="#0071bc" stroke="none" stroke-width="0" />
<line x1="881.9" y1="35" x2="881.9" y2="248.7" stroke="#000" stroke-width="1.85" stroke-linecap="butt" />
<line x1="874.7" y1="247.8" x2="1188" y2="247.8" stroke="#000" stroke-width="1.75" stroke-linecap="butt" />
<line x1="874.7" y1="247.8" x2="881.9" y2="247.8" stroke="#000" stroke-width="1.8" stroke-linecap="butt" />
<text x="869.4" y="252.3" font-size="16.5" text-anchor="end" font-family='"Liberation Sans", sans-serif' fill="#000" >0</text>
<line x1="874.7" y1="194.95" x2="881.9" y2="194.95" stroke="#000" stroke-width="1.8" stroke-linecap="butt" />
<text x="869.4" y="199.45" font-size="16.5" text-anchor="end" font-family='"Liberation Sans", sans-serif' fill="#000" >20</text>
<line x1="874.7" y1="142.1" x2="881.9" y2="142.1" stroke="#000" stroke-width="1.8" stroke-linecap="butt" />
<text x="869.4" y="146.6" font-size="16.5" text-anchor="end" font-family='"Liberation Sans", sans-serif' fill="#000" >40</text>
<line x1="874.7" y1="89.25" x2="881.9" y2="89.25" stroke="#000" stroke-width="1.8" stroke-linecap="butt" />
<text x="869.4" y="93.75" font-size="16.5" text-anchor="end" font-family='"Liberation Sans", sans-serif' fill="#000" >60</text>
<line x1="899" y1="213.5" x2="899" y2="222.25" stroke="#000" stroke-width="1" stroke-linecap="butt" />
<line x1="894.75" y1="213.5" x2="903.25" y2="213.5" stroke="#000" stroke-width="1" stroke-linecap="butt" />
<line x1="894.75" y1="222.25" x2="903.25" y2="222.25" stroke="#000" stroke-width="1" stroke-linecap="butt" />
<line x1="916.5" y1="191.8" x2="916.5" y2="203" stroke="#000" stroke-width="1" stroke-linecap="butt" />
<line x1="912.25" y1="191.8" x2="920.75" y2="191.8" stroke="#000" stroke-width="1" stroke-linecap="butt" />
<line x1="912.25" y1="203" x2="920.75" y2="203" stroke="#000" stroke-width="1" stroke-linecap="butt" />
<circle cx="899" cy="207.55" r="2.45" fill="#000"/>
<circle cx="895.5" cy="215.25" r="2.45" fill="#000"/>
<circle cx="901.45" cy="217" r="2.45" fill="#000"/>
<circle cx="896.55" cy="224" r="2.45" fill="#000"/>
<circle cx="901.45" cy="225.75" r="2.45" fill="#000"/>
<circle cx="919.3" cy="183.75" r="2.45" fill="#000"/>
<circle cx="914.05" cy="189" r="2.45" fill="#000"/>
<circle cx="921.75" cy="197.05" r="2.45" fill="#000"/>
<circle cx="916.5" cy="201.25" r="2.45" fill="#000"/>
<circle cx="919.3" cy="208.95" r="2.45" fill="#000"/>
<line x1="895.5" y1="177.45" x2="919.3" y2="177.45" stroke="#000" stroke-width="1.95" stroke-linecap="butt" />
<text x="0" y="0" font-size="16.8" text-anchor="middle" font-family='"Liberation Sans", sans-serif' fill="#000" transform="translate(907.4 173.25) scale(0.9 1)" >ns</text>
<text x="918.25" y="258.8" font-size="16.9" text-anchor="end" font-family='"Liberation Sans", sans-serif' fill="#000" transform="rotate(-45 918.25 258.8)" >HK-2</text>
<line x1="951.5" y1="229.25" x2="951.5" y2="232.75" stroke="#000" stroke-width="1" stroke-linecap="butt" />
<line x1="947.25" y1="229.25" x2="955.75" y2="229.25" stroke="#000" stroke-width="1" stroke-linecap="butt" />
<line x1="947.25" y1="232.75" x2="955.75" y2="232.75" stroke="#000" stroke-width="1" stroke-linecap="butt" />
<line x1="969" y1="176.05" x2="969" y2="190.75" stroke="#000" stroke-width="1" stroke-linecap="butt" />
<line x1="964.75" y1="176.05" x2="973.25" y2="176.05" stroke="#000" stroke-width="1" stroke-linecap="butt" />
<line x1="964.75" y1="190.75" x2="973.25" y2="190.75" stroke="#000" stroke-width="1" stroke-linecap="butt" />
<circle cx="951.5" cy="228.2" r="2.45" fill="#000"/>
<circle cx="948" cy="230.3" r="2.45" fill="#000"/>
<circle cx="954.3" cy="230.3" r="2.45" fill="#000"/>
<circle cx="949.05" cy="234.5" r="2.45" fill="#000"/>
<circle cx="953.25" cy="232.05" r="2.45" fill="#000"/>
<circle cx="969" cy="163.45" r="2.45" fill="#000"/>
<circle cx="970.05" cy="173.25" r="2.45" fill="#000"/>
<circle cx="971.45" cy="189" r="2.45" fill="#000"/>
<circle cx="965.5" cy="201.25" r="2.45" fill="#000"/>
<circle cx="971.45" cy="197.05" r="2.45" fill="#000"/>
<line x1="947.3" y1="155.05" x2="971.8" y2="155.05" stroke="#000" stroke-width="1.95" stroke-linecap="butt" />
<text x="959.55" y="154.83" font-size="18.8" text-anchor="middle" font-family='"Liberation Serif", serif' fill="#222" >**</text>
<text x="970.75" y="258.8" font-size="16.9" text-anchor="end" font-family='"Liberation Sans", sans-serif' fill="#000" transform="rotate(-45 970.75 258.8)" >ACHN</text>
<line x1="1004" y1="217" x2="1004" y2="222.95" stroke="#000" stroke-width="1" stroke-linecap="butt" />
<line x1="999.75" y1="217" x2="1008.25" y2="217" stroke="#000" stroke-width="1" stroke-linecap="butt" />
<line x1="999.75" y1="222.95" x2="1008.25" y2="222.95" stroke="#000" stroke-width="1" stroke-linecap="butt" />
<line x1="1021.5" y1="180.25" x2="1021.5" y2="190.75" stroke="#000" stroke-width="1" stroke-linecap="butt" />
<line x1="1017.25" y1="180.25" x2="1025.75" y2="180.25" stroke="#000" stroke-width="1" stroke-linecap="butt" />
<line x1="1017.25" y1="190.75" x2="1025.75" y2="190.75" stroke="#000" stroke-width="1" stroke-linecap="butt" />
<circle cx="1000.5" cy="214.2" r="2.45" fill="#000"/>
<circle cx="1006.8" cy="215.25" r="2.45" fill="#000"/>
<circle cx="997.7" cy="222.95" r="2.45" fill="#000"/>
<circle cx="1002.95" cy="222.95" r="2.45" fill="#000"/>
<circle cx="1008.55" cy="222.95" r="2.45" fill="#000"/>
<circle cx="1023.95" cy="170.8" r="2.45" fill="#000"/>
<circle cx="1018" cy="176.75" r="2.45" fill="#000"/>
<circle cx="1021.5" cy="189" r="2.45" fill="#000"/>
<circle cx="1018" cy="197.05" r="2.45" fill="#000"/>
<circle cx="1023.95" cy="197.05" r="2.45" fill="#000"/>
<line x1="998.75" y1="161.7" x2="1023.25" y2="161.7" stroke="#000" stroke-width="1.95" stroke-linecap="butt" />
<text x="1011" y="161.48" font-size="18.8" text-anchor="middle" font-family='"Liberation Serif", serif' fill="#222" >***</text>
<text x="1023.25" y="258.8" font-size="16.9" text-anchor="end" font-family='"Liberation Sans", sans-serif' fill="#000" transform="rotate(-45 1023.25 258.8)" >CAKi-1</text>
<line x1="1056.5" y1="206.5" x2="1056.5" y2="214.2" stroke="#000" stroke-width="1" stroke-linecap="butt" />
<line x1="1052.25" y1="206.5" x2="1060.75" y2="206.5" stroke="#000" stroke-width="1" stroke-linecap="butt" />
<line x1="1052.25" y1="214.2" x2="1060.75" y2="214.2" stroke="#000" stroke-width="1" stroke-linecap="butt" />
<line x1="1074" y1="95.2" x2="1074" y2="118.3" stroke="#000" stroke-width="1" stroke-linecap="butt" />
<line x1="1069.75" y1="95.2" x2="1078.25" y2="95.2" stroke="#000" stroke-width="1" stroke-linecap="butt" />
<line x1="1069.75" y1="118.3" x2="1078.25" y2="118.3" stroke="#000" stroke-width="1" stroke-linecap="butt" />
<circle cx="1053" cy="198.45" r="2.45" fill="#000"/>
<circle cx="1058.95" cy="205.45" r="2.45" fill="#000"/>
<circle cx="1050.55" cy="211.75" r="2.45" fill="#000"/>
<circle cx="1061.05" cy="212.45" r="2.45" fill="#000"/>
<circle cx="1056.5" cy="218.05" r="2.45" fill="#000"/>
<circle cx="1073.3" cy="78.05" r="2.45" fill="#000"/>
<circle cx="1073.3" cy="89.95" r="2.45" fill="#000"/>
<circle cx="1073.3" cy="102.2" r="2.45" fill="#000"/>
<circle cx="1073.3" cy="119" r="2.45" fill="#000"/>
<circle cx="1073.3" cy="144.2" r="2.45" fill="#000"/>
<line x1="1050.55" y1="69.3" x2="1075.05" y2="69.3" stroke="#000" stroke-width="1.95" stroke-linecap="butt" />
<text x="1062.8" y="69.08" font-size="18.8" text-anchor="middle" font-family='"Liberation Serif", serif' fill="#222" >**</text>
<text x="1075.75" y="258.8" font-size="16.9" text-anchor="end" font-family='"Liberation Sans", sans-serif' fill="#000" transform="rotate(-45 1075.75 258.8)" >786-O</text>
<line x1="1109" y1="210" x2="1109" y2="217.7" stroke="#000" stroke-width="1" stroke-linecap="butt" />
<line x1="1104.75" y1="210" x2="1113.25" y2="210" stroke="#000" stroke-width="1" stroke-linecap="butt" />
<line x1="1104.75" y1="217.7" x2="1113.25" y2="217.7" stroke="#000" stroke-width="1" stroke-linecap="butt" />
<line x1="1126.5" y1="168" x2="1126.5" y2="177.8" stroke="#000" stroke-width="1" stroke-linecap="butt" />
<line x1="1122.25" y1="168" x2="1130.75" y2="168" stroke="#000" stroke-width="1" stroke-linecap="butt" />
<line x1="1122.25" y1="177.8" x2="1130.75" y2="177.8" stroke="#000" stroke-width="1" stroke-linecap="butt" />
<circle cx="1107.95" cy="201.25" r="2.45" fill="#000"/>
<circle cx="1105.5" cy="213.5" r="2.45" fill="#000"/>
<circle cx="1111.45" cy="216.3" r="2.45" fill="#000"/>
<circle cx="1114.25" cy="216.3" r="2.45" fill="#000"/>
<circle cx="1105.5" cy="222.25" r="2.45" fill="#000"/>
<circle cx="1125.8" cy="158.55" r="2.45" fill="#000"/>
<circle cx="1125.8" cy="165.55" r="2.45" fill="#000"/>
<circle cx="1128.95" cy="170.45" r="2.45" fill="#000"/>
<circle cx="1123" cy="182" r="2.45" fill="#000"/>
<circle cx="1128.95" cy="179.55" r="2.45" fill="#000"/>
<line x1="1102" y1="150.5" x2="1126.5" y2="150.5" stroke="#000" stroke-width="1.95" stroke-linecap="butt" />
<text x="1114.25" y="150.28" font-size="18.8" text-anchor="middle" font-family='"Liberation Serif", serif' fill="#222" >**</text>
<text x="1128.25" y="258.8" font-size="16.9" text-anchor="end" font-family='"Liberation Sans", sans-serif' fill="#000" transform="rotate(-45 1128.25 258.8)" >769P</text>
<line x1="1161.5" y1="205.45" x2="1161.5" y2="217" stroke="#000" stroke-width="1" stroke-linecap="butt" />
<line x1="1157.25" y1="205.45" x2="1165.75" y2="205.45" stroke="#000" stroke-width="1" stroke-linecap="butt" />
<line x1="1157.25" y1="217" x2="1165.75" y2="217" stroke="#000" stroke-width="1" stroke-linecap="butt" />
<line x1="1179" y1="180.25" x2="1179" y2="189" stroke="#000" stroke-width="1" stroke-linecap="butt" />
<line x1="1174.75" y1="180.25" x2="1183.25" y2="180.25" stroke="#000" stroke-width="1" stroke-linecap="butt" />
<line x1="1174.75" y1="189" x2="1183.25" y2="189" stroke="#000" stroke-width="1" stroke-linecap="butt" />
<circle cx="1161.5" cy="197.05" r="2.45" fill="#000"/>
<circle cx="1158" cy="208.95" r="2.45" fill="#000"/>
<circle cx="1163.95" cy="210" r="2.45" fill="#000"/>
<circle cx="1159.05" cy="222.25" r="2.45" fill="#000"/>
<circle cx="1163.95" cy="222.25" r="2.45" fill="#000"/>
<circle cx="1177.95" cy="171.5" r="2.45" fill="#000"/>
<circle cx="1177.95" cy="179.55" r="2.45" fill="#000"/>
<circle cx="1173.75" cy="189" r="2.45" fill="#000"/>
<circle cx="1180.75" cy="189" r="2.45" fill="#000"/>
<circle cx="1183.2" cy="191.45" r="2.45" fill="#000"/>
<line x1="1153.8" y1="163.45" x2="1178.3" y2="163.45" stroke="#000" stroke-width="1.95" stroke-linecap="butt" />
<text x="1166.05" y="163.23" font-size="18.8" text-anchor="middle" font-family='"Liberation Serif", serif' fill="#222" >**</text>
<text x="1180.75" y="258.8" font-size="16.9" text-anchor="end" font-family='"Liberation Sans", sans-serif' fill="#000" transform="rotate(-45 1180.75 258.8)" >OSRC2</text>
<rect x="891.5" y="30.9" width="21.3" height="8.5" fill="#999999" stroke="none" stroke-width="0" />
<rect x="891.5" y="46.8" width="21.3" height="8.5" fill="#0071bc" stroke="none" stroke-width="0" />
<text x="919.1" y="38.6" font-size="14.1" text-anchor="start" font-family='"Liberation Sans", sans-serif' fill="#000" >DMSO</text>
<text x="919.1" y="54.7" font-size="14.1" text-anchor="start" font-family='"Liberation Sans", sans-serif' fill="#000" >Sal</text>
<text x="838.5" y="141" font-size="20.5" text-anchor="middle" font-family='"Liberation Sans", sans-serif' fill="#000" transform="rotate(-90 838.5 141)" >LDH release (%)</text>
<rect x="96.95" y="551.3" width="17.5" height="29.4" fill="#999999" stroke="none" stroke-width="0" />
<rect x="114.45" y="535.55" width="17.5" height="45.15" fill="#0071bc" stroke="none" stroke-width="0" />
<rect x="149.8" y="539.05" width="17.5" height="41.65" fill="#999999" stroke="none" stroke-width="0" />
<rect x="167.3" y="488.3" width="17.5" height="92.4" fill="#0071bc" stroke="none" stroke-width="0" />
<rect x="203.7" y="539.05" width="17.5" height="41.65" fill="#999999" stroke="none" stroke-width="0" />
<rect x="221.2" y="487.95" width="17.5" height="92.75" fill="#0071bc" stroke="none" stroke-width="0" />
<rect x="256.55" y="546.05" width="17.5" height="34.65" fill="#999999" stroke="none" stroke-width="0" />
<rect x="274.05" y="510.35" width="17.5" height="70.35" fill="#0071bc" stroke="none" stroke-width="0" />
<rect x="310.45" y="552" width="17.5" height="28.7" fill="#999999" stroke="none" stroke-width="0" />
<rect x="327.95" y="512.8" width="17.5" height="67.9" fill="#0071bc" stroke="none" stroke-width="0" />
<rect x="364" y="547.45" width="17.5" height="33.25" fill="#999999" stroke="none" stroke-width="0" />
<rect x="381.5" y="508.25" width="17.5" height="72.45" fill="#0071bc" stroke="none" stroke-width="0" />
<line x1="88.3" y1="368.1" x2="88.3" y2="581.6" stroke="#000" stroke-width="1.85" stroke-linecap="butt" />
<line x1="81.1" y1="580.7" x2="409.5" y2="580.7" stroke="#000" stroke-width="1.75" stroke-linecap="butt" />
<line x1="81.1" y1="580.7" x2="88.3" y2="580.7" stroke="#000" stroke-width="1.8" stroke-linecap="butt" />
<text x="75.8" y="585.2" font-size="16.5" text-anchor="end" font-family='"Liberation Sans", sans-serif' fill="#000" >0</text>
<line x1="81.1" y1="527.85" x2="88.3" y2="527.85" stroke="#000" stroke-width="1.8" stroke-linecap="butt" />
<text x="75.8" y="532.35" font-size="16.5" text-anchor="end" font-family='"Liberation Sans", sans-serif' fill="#000" >2</text>
<line x1="81.1" y1="475" x2="88.3" y2="475" stroke="#000" stroke-width="1.8" stroke-linecap="butt" />
<text x="75.8" y="479.5" font-size="16.5" text-anchor="end" font-family='"Liberation Sans", sans-serif' fill="#000" >4</text>
<line x1="81.1" y1="422.15" x2="88.3" y2="422.15" stroke="#000" stroke-width="1.8" stroke-linecap="butt" />
<text x="75.8" y="426.65" font-size="16.5" text-anchor="end" font-family='"Liberation Sans", sans-serif' fill="#000" >6</text>
<line x1="81.1" y1="369.3" x2="88.3" y2="369.3" stroke="#000" stroke-width="1.8" stroke-linecap="butt" />
<text x="75.8" y="373.8" font-size="16.5" text-anchor="end" font-family='"Liberation Sans", sans-serif' fill="#000" >8</text>
<line x1="105.7" y1="545" x2="105.7" y2="557.25" stroke="#000" stroke-width="1" stroke-linecap="butt" />
<line x1="101.45" y1="545" x2="109.95" y2="545" stroke="#000" stroke-width="1" stroke-linecap="butt" />
<line x1="101.45" y1="557.25" x2="109.95" y2="557.25" stroke="#000" stroke-width="1" stroke-linecap="butt" />
<line x1="123.2" y1="524" x2="123.2" y2="548.5" stroke="#000" stroke-width="1" stroke-linecap="butt" />
<line x1="118.95" y1="524" x2="127.45" y2="524" stroke="#000" stroke-width="1" stroke-linecap="butt" />
<line x1="118.95" y1="548.5" x2="127.45" y2="548.5" stroke="#000" stroke-width="1" stroke-linecap="butt" />
<circle cx="106.05" cy="528.55" r="2.45" fill="#000"/>
<circle cx="101.5" cy="553.05" r="2.45" fill="#000"/>
<circle cx="111.3" cy="553.05" r="2.45" fill="#000"/>
<circle cx="105" cy="555.5" r="2.45" fill="#000"/>
<circle cx="106.05" cy="562.5" r="2.45" fill="#000"/>
<circle cx="123.2" cy="497.05" r="2.45" fill="#000"/>
<circle cx="126" cy="533.45" r="2.45" fill="#000"/>
<circle cx="121.45" cy="547.45" r="2.45" fill="#000"/>
<circle cx="126" cy="556.55" r="2.45" fill="#000"/>
<circle cx="120.05" cy="560.05" r="2.45" fill="#000"/>
<line x1="100.8" y1="489.7" x2="125.3" y2="489.7" stroke="#000" stroke-width="1.95" stroke-linecap="butt" />
<text x="0" y="0" font-size="16.8" text-anchor="middle" font-family='"Liberation Sans", sans-serif' fill="#000" transform="translate(113.05 485.5) scale(0.9 1)" >ns</text>
<text x="124.95" y="591.7" font-size="16.9" text-anchor="end" font-family='"Liberation Sans", sans-serif' fill="#000" transform="rotate(-45 124.95 591.7)" >HK-2</text>
<line x1="158.55" y1="531.7" x2="158.55" y2="545.7" stroke="#000" stroke-width="1" stroke-linecap="butt" />
<line x1="154.3" y1="531.7" x2="162.8" y2="531.7" stroke="#000" stroke-width="1" stroke-linecap="butt" />
<line x1="154.3" y1="545.7" x2="162.8" y2="545.7" stroke="#000" stroke-width="1" stroke-linecap="butt" />
<line x1="176.05" y1="474.3" x2="176.05" y2="502.3" stroke="#000" stroke-width="1" stroke-linecap="butt" />
<line x1="171.8" y1="474.3" x2="180.3" y2="474.3" stroke="#000" stroke-width="1" stroke-linecap="butt" />
<line x1="171.8" y1="502.3" x2="180.3" y2="502.3" stroke="#000" stroke-width="1" stroke-linecap="butt" />
<circle cx="158.55" cy="515.25" r="2.45" fill="#000"/>
<circle cx="162.05" cy="536.25" r="2.45" fill="#000"/>
<circle cx="156.45" cy="542.55" r="2.45" fill="#000"/>
<circle cx="161" cy="549.55" r="2.45" fill="#000"/>
<circle cx="158.55" cy="556.55" r="2.45" fill="#000"/>
<circle cx="176.75" cy="434.05" r="2.45" fill="#000"/>
<circle cx="182" cy="490.05" r="2.45" fill="#000"/>
<circle cx="170.8" cy="498.45" r="2.45" fill="#000"/>
<circle cx="176.75" cy="498.45" r="2.45" fill="#000"/>
<circle cx="176.75" cy="513.5" r="2.45" fill="#000"/>
<line x1="152.6" y1="425.3" x2="177.1" y2="425.3" stroke="#000" stroke-width="1.95" stroke-linecap="butt" />
<text x="164.85" y="425.52" font-size="20.7" text-anchor="middle" font-family='"Liberation Serif", serif' fill="#222" >**</text>
<text x="177.8" y="591.7" font-size="16.9" text-anchor="end" font-family='"Liberation Sans", sans-serif' fill="#000" transform="rotate(-45 177.8 591.7)" >ACHN</text>
<line x1="212.45" y1="531.7" x2="212.45" y2="545.7" stroke="#000" stroke-width="1" stroke-linecap="butt" />
<line x1="208.2" y1="531.7" x2="216.7" y2="531.7" stroke="#000" stroke-width="1" stroke-linecap="butt" />
<line x1="208.2" y1="545.7" x2="216.7" y2="545.7" stroke="#000" stroke-width="1" stroke-linecap="butt" />
<line x1="229.95" y1="480.25" x2="229.95" y2="494.95" stroke="#000" stroke-width="1" stroke-linecap="butt" />
<line x1="225.7" y1="480.25" x2="234.2" y2="480.25" stroke="#000" stroke-width="1" stroke-linecap="butt" />
<line x1="225.7" y1="494.95" x2="234.2" y2="494.95" stroke="#000" stroke-width="1" stroke-linecap="butt" />
<circle cx="211.75" cy="518.05" r="2.45" fill="#000"/>
<circle cx="211.75" cy="538" r="2.45" fill="#000"/>
<circle cx="214.55" cy="547.45" r="2.45" fill="#000"/>
<circle cx="208.95" cy="554.45" r="2.45" fill="#000"/>
<circle cx="214.55" cy="553.05" r="2.45" fill="#000"/>
<circle cx="226.8" cy="473.25" r="2.45" fill="#000"/>
<circle cx="233.8" cy="476.75" r="2.45" fill="#000"/>
<circle cx="230.3" cy="491.45" r="2.45" fill="#000"/>
<circle cx="230.3" cy="499.5" r="2.45" fill="#000"/>
<circle cx="229.25" cy="514.55" r="2.45" fill="#000"/>
<line x1="208.95" y1="463.8" x2="233.45" y2="463.8" stroke="#000" stroke-width="1.95" stroke-linecap="butt" />
<text x="221.2" y="464.02" font-size="20.7" text-anchor="middle" font-family='"Liberation Serif", serif' fill="#222" >***</text>
<text x="231.7" y="591.7" font-size="16.9" text-anchor="end" font-family='"Liberation Sans", sans-serif' fill="#000" transform="rotate(-45 231.7 591.7)" >CAKi-1</text>
<line x1="265.3" y1="539.75" x2="265.3" y2="552" stroke="#000" stroke-width="1" stroke-linecap="butt" />
<line x1="261.05" y1="539.75" x2="269.55" y2="539.75" stroke="#000" stroke-width="1" stroke-linecap="butt" />
<line x1="261.05" y1="552" x2="269.55" y2="552" stroke="#000" stroke-width="1" stroke-linecap="butt" />
<line x1="282.8" y1="501.25" x2="282.8" y2="519.45" stroke="#000" stroke-width="1" stroke-linecap="butt" />
<line x1="278.55" y1="501.25" x2="287.05" y2="501.25" stroke="#000" stroke-width="1" stroke-linecap="butt" />
<line x1="278.55" y1="519.45" x2="287.05" y2="519.45" stroke="#000" stroke-width="1" stroke-linecap="butt" />
<circle cx="264.95" cy="522.25" r="2.45" fill="#000"/>
<circle cx="264.95" cy="542.55" r="2.45" fill="#000"/>
<circle cx="262.5" cy="553.05" r="2.45" fill="#000"/>
<circle cx="266" cy="554.45" r="2.45" fill="#000"/>
<circle cx="271.25" cy="554.45" r="2.45" fill="#000"/>
<circle cx="283.5" cy="478.5" r="2.45" fill="#000"/>
<circle cx="283.5" cy="504.05" r="2.45" fill="#000"/>
<circle cx="280" cy="519.45" r="2.45" fill="#000"/>
<circle cx="287" cy="519.45" r="2.45" fill="#000"/>
<circle cx="283.5" cy="528.55" r="2.45" fill="#000"/>
<line x1="260.75" y1="468.7" x2="285.25" y2="468.7" stroke="#000" stroke-width="1.95" stroke-linecap="butt" />
<text x="273" y="468.92" font-size="20.7" text-anchor="middle" font-family='"Liberation Serif", serif' fill="#222" >***</text>
<text x="284.55" y="591.7" font-size="16.9" text-anchor="end" font-family='"Liberation Sans", sans-serif' fill="#000" transform="rotate(-45 284.55 591.7)" >786-O</text>
<line x1="319.2" y1="548.5" x2="319.2" y2="555.5" stroke="#000" stroke-width="1" stroke-linecap="butt" />
<line x1="314.95" y1="548.5" x2="323.45" y2="548.5" stroke="#000" stroke-width="1" stroke-linecap="butt" />
<line x1="314.95" y1="555.5" x2="323.45" y2="555.5" stroke="#000" stroke-width="1" stroke-linecap="butt" />
<line x1="336.7" y1="505.8" x2="336.7" y2="519.8" stroke="#000" stroke-width="1" stroke-linecap="butt" />
<line x1="332.45" y1="505.8" x2="340.95" y2="505.8" stroke="#000" stroke-width="1" stroke-linecap="butt" />
<line x1="332.45" y1="519.8" x2="340.95" y2="519.8" stroke="#000" stroke-width="1" stroke-linecap="butt" />
<circle cx="318.5" cy="538" r="2.45" fill="#000"/>
<circle cx="318.5" cy="552" r="2.45" fill="#000"/>
<circle cx="315" cy="555.5" r="2.45" fill="#000"/>
<circle cx="320.25" cy="559" r="2.45" fill="#000"/>
<circle cx="325.5" cy="557.95" r="2.45" fill="#000"/>
<circle cx="336.7" cy="491.8" r="2.45" fill="#000"/>
<circle cx="339.5" cy="511.05" r="2.45" fill="#000"/>
<circle cx="336.7" cy="519.45" r="2.45" fill="#000"/>
<circle cx="334.25" cy="527.5" r="2.45" fill="#000"/>
<circle cx="339.5" cy="526.45" r="2.45" fill="#000"/>
<line x1="312.55" y1="480.95" x2="337.05" y2="480.95" stroke="#000" stroke-width="1.95" stroke-linecap="butt" />
<text x="324.8" y="480.68" font-size="18.6" text-anchor="middle" font-family='"Liberation Serif", serif' fill="#222" >**</text>
<text x="338.45" y="591.7" font-size="16.9" text-anchor="end" font-family='"Liberation Sans", sans-serif' fill="#000" transform="rotate(-45 338.45 591.7)" >769P</text>
<line x1="372.75" y1="542.55" x2="372.75" y2="552" stroke="#000" stroke-width="1" stroke-linecap="butt" />
<line x1="368.5" y1="542.55" x2="377" y2="542.55" stroke="#000" stroke-width="1" stroke-linecap="butt" />
<line x1="368.5" y1="552" x2="377" y2="552" stroke="#000" stroke-width="1" stroke-linecap="butt" />
<line x1="390.25" y1="500.55" x2="390.25" y2="515.25" stroke="#000" stroke-width="1" stroke-linecap="butt" />
<line x1="386" y1="500.55" x2="394.5" y2="500.55" stroke="#000" stroke-width="1" stroke-linecap="butt" />
<line x1="386" y1="515.25" x2="394.5" y2="515.25" stroke="#000" stroke-width="1" stroke-linecap="butt" />
<circle cx="372.05" cy="532.75" r="2.45" fill="#000"/>
<circle cx="372.05" cy="548.5" r="2.45" fill="#000"/>
<circle cx="368.55" cy="553.05" r="2.45" fill="#000"/>
<circle cx="374.5" cy="554.45" r="2.45" fill="#000"/>
<circle cx="378" cy="553.05" r="2.45" fill="#000"/>
<circle cx="390.25" cy="483.05" r="2.45" fill="#000"/>
<circle cx="386.75" cy="503" r="2.45" fill="#000"/>
<circle cx="393.75" cy="503" r="2.45" fill="#000"/>
<circle cx="386.75" cy="513.5" r="2.45" fill="#000"/>
<circle cx="390.25" cy="527.5" r="2.45" fill="#000"/>
<line x1="365.75" y1="473.25" x2="390.25" y2="473.25" stroke="#000" stroke-width="1.95" stroke-linecap="butt" />
<text x="378" y="472.98" font-size="18.6" text-anchor="middle" font-family='"Liberation Serif", serif' fill="#222" >**</text>
<text x="392" y="591.7" font-size="16.9" text-anchor="end" font-family='"Liberation Sans", sans-serif' fill="#000" transform="rotate(-45 392 591.7)" >OSRC2</text>
<rect x="94.5" y="358.4" width="21.3" height="8.5" fill="#999999" stroke="none" stroke-width="0" />
<rect x="94.5" y="374" width="21.3" height="8.5" fill="#0071bc" stroke="none" stroke-width="0" />
<text x="122.1" y="366.1" font-size="14.1" text-anchor="start" font-family='"Liberation Sans", sans-serif' fill="#000" >DMSO</text>
<text x="122.1" y="381.9" font-size="14.1" text-anchor="start" font-family='"Liberation Sans", sans-serif' fill="#000" >Sal</text>
<text x="54" y="466.5" font-size="19.6" text-anchor="middle" font-family='"Liberation Sans", sans-serif' fill="#000" transform="rotate(-90 54 466.5)" xml:space="preserve">Fold change of  MDA level</text>
<text x="476.3" y="347" font-size="34" text-anchor="start" font-family='"Liberation Sans", sans-serif' fill="#000" >E</text>
<text x="689.5" y="339.5" font-size="18.4" text-anchor="middle" font-family='"Liberation Sans", sans-serif' fill="#000" >HK-2</text>
<line x1="660.7" y1="344.7" x2="720.5" y2="344.7" stroke="#000" stroke-width="1.95" stroke-linecap="butt" />
<text x="765" y="339.5" font-size="18.4" text-anchor="middle" font-family='"Liberation Sans", sans-serif' fill="#000" >769P</text>
<line x1="733.5" y1="344.7" x2="795" y2="344.7" stroke="#000" stroke-width="1.95" stroke-linecap="butt" />
<text x="847" y="339.5" font-size="18.4" text-anchor="middle" font-family='"Liberation Sans", sans-serif' fill="#000" >ACHN</text>
<line x1="818" y1="344.7" x2="877.6" y2="344.7" stroke="#000" stroke-width="1.95" stroke-linecap="butt" />
<text x="919.5" y="339.5" font-size="18.4" text-anchor="middle" font-family='"Liberation Sans", sans-serif' fill="#000" >CAKi-1</text>
<line x1="889.3" y1="344.7" x2="949.6" y2="344.7" stroke="#000" stroke-width="1.95" stroke-linecap="butt" />
<text x="988.5" y="339.5" font-size="18.4" text-anchor="middle" font-family='"Liberation Sans", sans-serif' fill="#000" >786-O</text>
<line x1="958.2" y1="344.7" x2="1018.7" y2="344.7" stroke="#000" stroke-width="1.95" stroke-linecap="butt" />
<text x="646" y="365.5" font-size="19.5" text-anchor="end" font-family='"Liberation Sans", sans-serif' fill="#000" >Sal</text>
<line x1="671.7" y1="360.2" x2="681.3" y2="360.2" stroke="#222" stroke-width="1" stroke-linecap="butt" />
<line x1="704.2" y1="360.2" x2="713.8" y2="360.2" stroke="#222" stroke-width="1" stroke-linecap="butt" />
<line x1="709" y1="355.4" x2="709" y2="365" stroke="#222" stroke-width="1" stroke-linecap="butt" />
<line x1="743.2" y1="360.2" x2="752.8" y2="360.2" stroke="#222" stroke-width="1" stroke-linecap="butt" />
<line x1="779.2" y1="360.2" x2="788.8" y2="360.2" stroke="#222" stroke-width="1" stroke-linecap="butt" />
<line x1="784" y1="355.4" x2="784" y2="365" stroke="#222" stroke-width="1" stroke-linecap="butt" />
<line x1="831.2" y1="360.2" x2="840.8" y2="360.2" stroke="#222" stroke-width="1" stroke-linecap="butt" />
<line x1="866.1" y1="360.2" x2="875.7" y2="360.2" stroke="#222" stroke-width="1" stroke-linecap="butt" />
<line x1="870.9" y1="355.4" x2="870.9" y2="365" stroke="#222" stroke-width="1" stroke-linecap="butt" />
<line x1="899.2" y1="360.2" x2="908.8" y2="360.2" stroke="#222" stroke-width="1" stroke-linecap="butt" />
<line x1="932.5" y1="360.2" x2="942.1" y2="360.2" stroke="#222" stroke-width="1" stroke-linecap="butt" />
<line x1="937.3" y1="355.4" x2="937.3" y2="365" stroke="#222" stroke-width="1" stroke-linecap="butt" />
<line x1="965.5" y1="360.2" x2="975.1" y2="360.2" stroke="#222" stroke-width="1" stroke-linecap="butt" />
<line x1="998.8" y1="360.2" x2="1008.4" y2="360.2" stroke="#222" stroke-width="1" stroke-linecap="butt" />
<line x1="1003.6" y1="355.4" x2="1003.6" y2="365" stroke="#222" stroke-width="1" stroke-linecap="butt" />
<text x="647" y="396" font-size="21" text-anchor="end" font-family='"Liberation Sans", sans-serif' fill="#000" >p-RIP3</text>
<text x="647" y="437" font-size="21" text-anchor="end" font-family='"Liberation Sans", sans-serif' fill="#000" >RIP3</text>
<text x="647" y="479" font-size="21" text-anchor="end" font-family='"Liberation Sans", sans-serif' fill="#000" >p-RIP1</text>
<text x="647" y="520.5" font-size="21" text-anchor="end" font-family='"Liberation Sans", sans-serif' fill="#000" >RIP1</text>
<text x="647" y="563" font-size="21" text-anchor="end" font-family='"Liberation Sans", sans-serif' fill="#000" >p-MLKL</text>
<text x="647" y="604.5" font-size="21" text-anchor="end" font-family='"Liberation Sans", sans-serif' fill="#000" >MLKL</text>
<text x="1029.5" y="375" font-size="13.7" text-anchor="start" font-family='"Liberation Sans", sans-serif' fill="#000" >KDa</text>
<line x1="1025" y1="396.3" x2="1034.5" y2="396.3" stroke="#000" stroke-width="1.3" stroke-linecap="butt" />
<text x="1040.3" y="398.2" font-size="13.5" text-anchor="start" font-family='"Liberation Sans", sans-serif' fill="#000" >55</text>
<line x1="1025" y1="431.8" x2="1034.5" y2="431.8" stroke="#000" stroke-width="1.3" stroke-linecap="butt" />
<text x="1040.3" y="436" font-size="13.5" text-anchor="start" font-family='"Liberation Sans", sans-serif' fill="#000" >55</text>
<line x1="1025" y1="480" x2="1034.5" y2="480" stroke="#000" stroke-width="1.3" stroke-linecap="butt" />
<text x="1040.3" y="484.7" font-size="13.5" text-anchor="start" font-family='"Liberation Sans", sans-serif' fill="#000" >70</text>
<line x1="1025" y1="522" x2="1034.5" y2="522" stroke="#000" stroke-width="1.3" stroke-linecap="butt" />
<text x="1040.3" y="526.7" font-size="13.5" text-anchor="start" font-family='"Liberation Sans", sans-serif' fill="#000" >70</text>
<line x1="1025" y1="548" x2="1034.5" y2="548" stroke="#000" stroke-width="1.3" stroke-linecap="butt" />
<text x="1040.3" y="552.7" font-size="13.5" text-anchor="start" font-family='"Liberation Sans", sans-serif' fill="#000" >55</text>
<line x1="1025" y1="586.6" x2="1034.5" y2="586.6" stroke="#000" stroke-width="1.3" stroke-linecap="butt" />
<text x="1040.3" y="593.3" font-size="13.5" text-anchor="start" font-family='"Liberation Sans", sans-serif' fill="#000" >55</text>
<g clip-path="url(#cp1)">
<rect x="651.5" y="369.3" width="156.5" height="36.2" fill="#dadada"/>
<rect x="660" y="373.3" width="24" height="36" fill="#000" opacity="0.52" filter="url(#b40)"/>
<rect x="699" y="370.3" width="24" height="36" fill="#000" opacity="0.46" filter="url(#b40)"/>
<rect x="737.3" y="377.3" width="22" height="30" fill="#000" opacity="0.3" filter="url(#b40)"/>
<rect x="779" y="373.3" width="26" height="40" fill="#000" opacity="0.52" filter="url(#b40)"/>
<rect x="664" y="388.8" width="18" height="5" fill="#000" opacity="0.14" filter="url(#b25)"/>
<rect x="703" y="386.8" width="18" height="5" fill="#000" opacity="0.14" filter="url(#b25)"/>
<rect x="651.5" y="369.3" width="156.5" height="36.2" filter="url(#nzA)" opacity="0.45"/>
</g>
<rect x="651.5" y="369.3" width="156.5" height="36.2" fill="none" stroke="#111" stroke-width="1.2"/>
<g clip-path="url(#cp2)">
<rect x="813.5" y="369.8" width="211.5" height="37" fill="#dedede"/>
<rect x="821" y="382" width="30" height="12" rx="6" ry="6" fill="#000" opacity="0.1" filter="url(#b40)"/>
<rect x="855.9" y="382" width="30" height="12" rx="6" ry="6" fill="#000" opacity="0.1" filter="url(#b40)"/>
<rect x="889" y="382" width="30" height="12" rx="6" ry="6" fill="#000" opacity="0.1" filter="url(#b40)"/>
<rect x="922.3" y="382" width="30" height="12" rx="6" ry="6" fill="#000" opacity="0.1" filter="url(#b40)"/>
<rect x="955.3" y="382" width="30" height="12" rx="6" ry="6" fill="#000" opacity="0.1" filter="url(#b40)"/>
<rect x="988.6" y="382" width="30" height="12" rx="6" ry="6" fill="#000" opacity="0.1" filter="url(#b40)"/>
<rect x="822" y="386.1" width="28" height="4.4" rx="3.74" ry="2.2" fill="#000" opacity="0.82" filter="url(#b12)"/>
<rect x="857.9" y="386.1" width="26" height="3" rx="2.55" ry="1.5" fill="#000" opacity="0.48" filter="url(#b12)"/>
<rect x="890" y="384.65" width="28" height="4.7" rx="4" ry="2.35" fill="#000" opacity="0.86" filter="url(#b12)"/>
<rect x="923.3" y="385.25" width="28" height="4.7" rx="4" ry="2.35" fill="#000" opacity="0.88" filter="url(#b12)"/>
<rect x="957.3" y="386.3" width="26" height="3.4" rx="2.89" ry="1.7" fill="#000" opacity="0.58" filter="url(#b12)"/>
<rect x="990.1" y="386" width="27" height="4" rx="3.4" ry="2" fill="#000" opacity="0.72" filter="url(#b12)"/>
<rect x="813.5" y="369.8" width="211.5" height="37" filter="url(#nzC)" opacity="0.2"/>
</g>
<rect x="813.5" y="369.8" width="211.5" height="37" fill="none" stroke="#111" stroke-width="1.2"/>
<g clip-path="url(#cp3)">
<rect x="651.5" y="412" width="156.5" height="36.3" fill="#e4e4e4"/>
<rect x="659.3" y="425" width="32" height="16" rx="8" ry="8" fill="#000" opacity="0.1" filter="url(#b40)"/>
<rect x="696" y="425" width="32" height="16" rx="8" ry="8" fill="#000" opacity="0.1" filter="url(#b40)"/>
<rect x="733.2" y="425" width="32" height="16" rx="8" ry="8" fill="#000" opacity="0.1" filter="url(#b40)"/>
<rect x="770.2" y="425" width="32" height="16" rx="8" ry="8" fill="#000" opacity="0.1" filter="url(#b40)"/>
<rect x="662.3" y="439.3" width="26" height="3" rx="2.55" ry="1.5" fill="#000" opacity="0.16" filter="url(#b12)"/>
<rect x="699" y="439.3" width="26" height="3" rx="2.55" ry="1.5" fill="#000" opacity="0.16" filter="url(#b12)"/>
<rect x="736.2" y="439.3" width="26" height="3" rx="2.55" ry="1.5" fill="#000" opacity="0.16" filter="url(#b12)"/>
<rect x="773.2" y="439.3" width="26" height="3" rx="2.55" ry="1.5" fill="#000" opacity="0.16" filter="url(#b12)"/>
<rect x="661.8" y="429.3" width="27" height="6" rx="5.1" ry="3" fill="#000" opacity="0.95" filter="url(#b09)"/>
<rect x="698.5" y="429.5" width="27" height="5.6" rx="4.76" ry="2.8" fill="#000" opacity="0.93" filter="url(#b09)"/>
<rect x="735.7" y="429.7" width="27" height="5.8" rx="4.93" ry="2.9" fill="#000" opacity="0.95" filter="url(#b09)"/>
<rect x="772.7" y="429.8" width="27" height="6" rx="5.1" ry="3" fill="#000" opacity="0.95" filter="url(#b09)"/>
</g>
<rect x="651.5" y="412" width="156.5" height="36.3" fill="none" stroke="#111" stroke-width="1.2"/>
<g clip-path="url(#cp4)">
<rect x="813.5" y="411.3" width="212" height="36.7" fill="#ededed"/>
<rect x="857.9" y="441.2" width="22" height="2.6" rx="2.21" ry="1.3" fill="#000" opacity="0.1" filter="url(#b12)"/>
<rect x="891" y="441.2" width="22" height="2.6" rx="2.21" ry="1.3" fill="#000" opacity="0.1" filter="url(#b12)"/>
<rect x="924.3" y="441.2" width="22" height="2.6" rx="2.21" ry="1.3" fill="#000" opacity="0.1" filter="url(#b12)"/>
<rect x="821.5" y="428.9" width="25" height="4.2" rx="3.57" ry="2.1" fill="#000" opacity="0.94" filter="url(#b09)"/>
<rect x="855.9" y="429.55" width="24" height="2.9" rx="2.46" ry="1.45" fill="#000" opacity="0.64" filter="url(#b09)"/>
<rect x="888.5" y="428.7" width="25" height="3.8" rx="3.23" ry="1.9" fill="#000" opacity="0.82" filter="url(#b09)"/>
<rect x="922.3" y="428.3" width="26" height="4.6" rx="3.91" ry="2.3" fill="#000" opacity="0.95" filter="url(#b09)"/>
<rect x="956.8" y="428.6" width="27" height="4.8" rx="4.08" ry="2.4" fill="#000" opacity="0.96" filter="url(#b09)"/>
<rect x="990.1" y="429" width="27" height="4.8" rx="4.08" ry="2.4" fill="#000" opacity="0.96" filter="url(#b09)"/>
</g>
<rect x="813.5" y="411.3" width="212" height="36.7" fill="none" stroke="#111" stroke-width="1.6"/>
<g clip-path="url(#cp5)">
<rect x="652.2" y="452.6" width="156.5" height="36.8" fill="#e9e9e9"/>
<rect x="661" y="464" width="34" height="16" rx="8" ry="8" fill="#000" opacity="0.08" filter="url(#b40)"/>
<rect x="697.2" y="464" width="34" height="16" rx="8" ry="8" fill="#000" opacity="0.08" filter="url(#b40)"/>
<rect x="731.3" y="464" width="34" height="16" rx="8" ry="8" fill="#000" opacity="0.08" filter="url(#b40)"/>
<rect x="766.3" y="464" width="34" height="16" rx="8" ry="8" fill="#000" opacity="0.08" filter="url(#b40)"/>
<rect x="664" y="468.7" width="28" height="8.2" rx="6.97" ry="4.1" fill="#000" opacity="0.97" filter="url(#b09)"/>
<rect x="700.2" y="468.7" width="28" height="7.6" rx="6.46" ry="3.8" fill="#000" opacity="0.97" filter="url(#b09)"/>
<rect x="736.3" y="469.7" width="24" height="4.6" rx="3.91" ry="2.3" fill="#000" opacity="0.85" filter="url(#b12)"/>
<rect x="772.3" y="469.5" width="22" height="4" rx="3.4" ry="2" fill="#000" opacity="0.68" filter="url(#b12)"/>
</g>
<rect x="652.2" y="452.6" width="156.5" height="36.8" fill="none" stroke="#111" stroke-width="1.2"/>
<g clip-path="url(#cp6)">
<rect x="813.2" y="452.2" width="211.8" height="36.6" fill="#efefef"/>
<rect x="820" y="466.8" width="26" height="7" rx="5.95" ry="3.5" fill="#000" opacity="0.97" filter="url(#b09)"/>
<rect x="855.4" y="467.6" width="25" height="6.4" rx="5.44" ry="3.2" fill="#000" opacity="0.95" filter="url(#b09)"/>
<rect x="888" y="467" width="26" height="6.6" rx="5.61" ry="3.3" fill="#000" opacity="0.95" filter="url(#b09)"/>
<rect x="924.3" y="468.7" width="22" height="4.6" rx="3.91" ry="2.3" fill="#000" opacity="0.78" filter="url(#b12)"/>
<rect x="958.3" y="469.1" width="22" height="4.4" rx="3.74" ry="2.2" fill="#000" opacity="0.7" filter="url(#b12)"/>
<rect x="993.1" y="469.8" width="21" height="4" rx="3.4" ry="2" fill="#000" opacity="0.6" filter="url(#b12)"/>
</g>
<rect x="813.2" y="452.2" width="211.8" height="36.6" fill="none" stroke="#111" stroke-width="1.6"/>
<g clip-path="url(#cp7)">
<rect x="651.5" y="493.8" width="156.5" height="36.6" fill="#e6e6e6"/>
<rect x="657.3" y="504" width="36" height="18" rx="9" ry="9" fill="#000" opacity="0.1" filter="url(#b40)"/>
<rect x="694" y="504" width="36" height="18" rx="9" ry="9" fill="#000" opacity="0.1" filter="url(#b40)"/>
<rect x="731.2" y="504" width="36" height="18" rx="9" ry="9" fill="#000" opacity="0.1" filter="url(#b40)"/>
<rect x="768.2" y="504" width="36" height="18" rx="9" ry="9" fill="#000" opacity="0.1" filter="url(#b40)"/>
<rect x="660.3" y="508.6" width="30" height="8" rx="6.8" ry="4" fill="#000" opacity="0.97" filter="url(#b09)"/>
<rect x="699" y="509.3" width="28" height="6.6" rx="5.61" ry="3.3" fill="#000" opacity="0.95" filter="url(#b09)"/>
<rect x="735.2" y="508.7" width="28" height="7" rx="5.95" ry="3.5" fill="#000" opacity="0.96" filter="url(#b09)"/>
<rect x="771.7" y="508.6" width="29" height="8" rx="6.8" ry="4" fill="#000" opacity="0.97" filter="url(#b09)"/>
</g>
<rect x="651.5" y="493.8" width="156.5" height="36.6" fill="none" stroke="#111" stroke-width="1.2"/>
<g clip-path="url(#cp8)">
<rect x="813.5" y="493.8" width="211.5" height="36.6" fill="#ebebeb"/>
<rect x="823" y="509.7" width="26" height="5.4" rx="4.59" ry="2.7" fill="#000" opacity="0.96" filter="url(#b09)"/>
<rect x="857.9" y="509.6" width="26" height="5.6" rx="4.76" ry="2.8" fill="#000" opacity="0.96" filter="url(#b09)"/>
<rect x="891" y="509.6" width="26" height="5.6" rx="4.76" ry="2.8" fill="#000" opacity="0.96" filter="url(#b09)"/>
<rect x="924.3" y="509.9" width="26" height="5" rx="4.25" ry="2.5" fill="#000" opacity="0.96" filter="url(#b09)"/>
<rect x="957.3" y="509.4" width="26" height="6" rx="5.1" ry="3" fill="#000" opacity="0.96" filter="url(#b09)"/>
<rect x="990.6" y="509.8" width="26" height="5.2" rx="4.42" ry="2.6" fill="#000" opacity="0.96" filter="url(#b09)"/>
</g>
<rect x="813.5" y="493.8" width="211.5" height="36.6" fill="none" stroke="#111" stroke-width="1.2"/>
<g clip-path="url(#cp9)">
<rect x="651.5" y="536.2" width="156.5" height="36.4" fill="#dcdcdc"/>
<rect x="662.3" y="534.2" width="24" height="40" fill="#000" opacity="0.2" filter="url(#b40)"/>
<rect x="699" y="534.2" width="24" height="40" fill="#000" opacity="0.19" filter="url(#b40)"/>
<rect x="738.2" y="534.2" width="22" height="40" fill="#000" opacity="0.1" filter="url(#b40)"/>
<rect x="776.2" y="534.2" width="20" height="40" fill="#000" opacity="0.06" filter="url(#b40)"/>
<rect x="663.3" y="553.5" width="22" height="5" rx="4.25" ry="2.5" fill="#000" opacity="0.6" filter="url(#b16)"/>
<rect x="700" y="553.7" width="22" height="5.2" rx="4.42" ry="2.6" fill="#000" opacity="0.58" filter="url(#b16)"/>
<rect x="740.7" y="554.5" width="17" height="4.6" rx="3.91" ry="2.3" fill="#000" opacity="0.3" filter="url(#b16)"/>
<rect x="779.2" y="554.1" width="14" height="3.8" rx="3.23" ry="1.9" fill="#000" opacity="0.15" filter="url(#b16)"/>
<rect x="651.5" y="536.2" width="156.5" height="36.4" filter="url(#nzB)" opacity="0.4"/>
</g>
<rect x="651.5" y="536.2" width="156.5" height="36.4" fill="none" stroke="#111" stroke-width="1.2"/>
<g clip-path="url(#cp10)">
<rect x="812" y="535.8" width="213" height="36.6" fill="#dcdcdc"/>
<rect x="823.5" y="530.2" width="25" height="44" fill="#000" opacity="0.42" filter="url(#b25)"/>
<rect x="858.4" y="530.2" width="25" height="44" fill="#000" opacity="0.48" filter="url(#b25)"/>
<rect x="891.5" y="530.2" width="25" height="44" fill="#000" opacity="0.38" filter="url(#b25)"/>
<rect x="924.8" y="530.2" width="25" height="44" fill="#000" opacity="0.26" filter="url(#b25)"/>
<rect x="957.8" y="530.2" width="25" height="44" fill="#000" opacity="0.48" filter="url(#b25)"/>
<rect x="991.1" y="530.2" width="25" height="44" fill="#000" opacity="0.5" filter="url(#b25)"/>
<rect x="823.5" y="534.2" width="25" height="12" fill="#000" opacity="0.3" filter="url(#b25)"/>
<rect x="858.4" y="534.2" width="25" height="12" fill="#000" opacity="0.3" filter="url(#b25)"/>
<rect x="891.5" y="534.2" width="25" height="12" fill="#000" opacity="0.3" filter="url(#b25)"/>
<rect x="916.3" y="537" width="10" height="7" fill="#000" opacity="0.75" filter="url(#b16)"/>
<rect x="824" y="551.9" width="24" height="4.6" rx="3.91" ry="2.3" fill="#000" opacity="0.72" filter="url(#b12)"/>
<rect x="858.9" y="551.9" width="24" height="4.6" rx="3.91" ry="2.3" fill="#000" opacity="0.7" filter="url(#b12)"/>
<rect x="892" y="552.4" width="24" height="3.6" rx="3.06" ry="1.8" fill="#000" opacity="0.55" filter="url(#b12)"/>
<rect x="925.3" y="552.7" width="24" height="3" rx="2.55" ry="1.5" fill="#000" opacity="0.4" filter="url(#b12)"/>
<rect x="958.3" y="551.9" width="24" height="4.6" rx="3.91" ry="2.3" fill="#000" opacity="0.72" filter="url(#b12)"/>
<rect x="991.6" y="552.2" width="24" height="4" rx="3.4" ry="2" fill="#000" opacity="0.6" filter="url(#b12)"/>
<rect x="812" y="535.8" width="213" height="36.6" filter="url(#nzA)" opacity="0.55"/>
</g>
<rect x="812" y="535.8" width="213" height="36.6" fill="none" stroke="#111" stroke-width="1.2"/>
<g clip-path="url(#cp11)">
<rect x="651.5" y="579" width="156.5" height="36.6" fill="#e8e8e8"/>
<rect x="658.3" y="589" width="34" height="14" rx="7" ry="7" fill="#000" opacity="0.08" filter="url(#b40)"/>
<rect x="695" y="589" width="34" height="14" rx="7" ry="7" fill="#000" opacity="0.08" filter="url(#b40)"/>
<rect x="732.2" y="589" width="34" height="14" rx="7" ry="7" fill="#000" opacity="0.08" filter="url(#b40)"/>
<rect x="769.2" y="589" width="34" height="14" rx="7" ry="7" fill="#000" opacity="0.08" filter="url(#b40)"/>
<rect x="661.3" y="592.8" width="28" height="6" rx="5.1" ry="3" fill="#000" opacity="0.96" filter="url(#b09)"/>
<rect x="698" y="593.2" width="28" height="5.6" rx="4.76" ry="2.8" fill="#000" opacity="0.95" filter="url(#b09)"/>
<rect x="736.7" y="593.6" width="25" height="4.4" rx="3.74" ry="2.2" fill="#000" opacity="0.92" filter="url(#b09)"/>
<rect x="772.7" y="593.4" width="27" height="5.2" rx="4.42" ry="2.6" fill="#000" opacity="0.94" filter="url(#b09)"/>
</g>
<rect x="651.5" y="579" width="156.5" height="36.6" fill="none" stroke="#111" stroke-width="1.2"/>
<g clip-path="url(#cp12)">
<rect x="813.5" y="579" width="211.5" height="36.6" fill="#ebebeb"/>
<rect x="823" y="593.1" width="26" height="5" rx="4.25" ry="2.5" fill="#000" opacity="0.95" filter="url(#b09)"/>
<rect x="857.4" y="592.7" width="27" height="5.8" rx="4.93" ry="2.9" fill="#000" opacity="0.95" filter="url(#b09)"/>
<rect x="892" y="593.4" width="24" height="4.4" rx="3.74" ry="2.2" fill="#000" opacity="0.95" filter="url(#b09)"/>
<rect x="924.3" y="593" width="26" height="5.2" rx="4.42" ry="2.6" fill="#000" opacity="0.95" filter="url(#b09)"/>
<rect x="956.8" y="592.8" width="27" height="5.6" rx="4.76" ry="2.8" fill="#000" opacity="0.95" filter="url(#b09)"/>
<rect x="991.1" y="593.3" width="25" height="4.6" rx="3.91" ry="2.3" fill="#000" opacity="0.95" filter="url(#b09)"/>
</g>
<rect x="813.5" y="579" width="211.5" height="36.6" fill="none" stroke="#111" stroke-width="1.2"/>
<text x="-0.8" y="676" font-size="34" text-anchor="start" font-family='"Liberation Sans", sans-serif' fill="#000" >F</text>
<text x="175" y="682.7" font-size="18.6" text-anchor="middle" font-family='"Liberation Sans", sans-serif' fill="#000" >HK-2</text>
<line x1="146.4" y1="688.6" x2="205" y2="688.6" stroke="#000" stroke-width="1.95" stroke-linecap="butt" />
<text x="250.2" y="682.7" font-size="18.6" text-anchor="middle" font-family='"Liberation Sans", sans-serif' fill="#000" >769P</text>
<line x1="219" y1="688.6" x2="280.2" y2="688.6" stroke="#000" stroke-width="1.95" stroke-linecap="butt" />
<text x="329" y="682.7" font-size="18.6" text-anchor="middle" font-family='"Liberation Sans", sans-serif' fill="#000" >ACHN</text>
<line x1="300.8" y1="688.6" x2="360.2" y2="688.6" stroke="#000" stroke-width="1.95" stroke-linecap="butt" />
<text x="400.5" y="682.7" font-size="18.6" text-anchor="middle" font-family='"Liberation Sans", sans-serif' fill="#000" >CAKi-1</text>
<line x1="370.4" y1="688.6" x2="431" y2="688.6" stroke="#000" stroke-width="1.95" stroke-linecap="butt" />
<text x="470.2" y="682.7" font-size="18.6" text-anchor="middle" font-family='"Liberation Sans", sans-serif' fill="#000" >786-O</text>
<line x1="439" y1="688.6" x2="498.8" y2="688.6" stroke="#000" stroke-width="1.95" stroke-linecap="butt" />
<text x="130" y="709.5" font-size="19.5" text-anchor="end" font-family='"Liberation Sans", sans-serif' fill="#000" >Sal</text>
<line x1="155.5" y1="704" x2="165.1" y2="704" stroke="#222" stroke-width="1" stroke-linecap="butt" />
<line x1="189.6" y1="704" x2="199.2" y2="704" stroke="#222" stroke-width="1" stroke-linecap="butt" />
<line x1="194.4" y1="699.2" x2="194.4" y2="708.8" stroke="#222" stroke-width="1" stroke-linecap="butt" />
<line x1="227.8" y1="704" x2="237.4" y2="704" stroke="#222" stroke-width="1" stroke-linecap="butt" />
<line x1="266.2" y1="704" x2="275.8" y2="704" stroke="#222" stroke-width="1" stroke-linecap="butt" />
<line x1="271" y1="699.2" x2="271" y2="708.8" stroke="#222" stroke-width="1" stroke-linecap="butt" />
<line x1="313.2" y1="704" x2="322.8" y2="704" stroke="#222" stroke-width="1" stroke-linecap="butt" />
<line x1="346.2" y1="704" x2="355.8" y2="704" stroke="#222" stroke-width="1" stroke-linecap="butt" />
<line x1="351" y1="699.2" x2="351" y2="708.8" stroke="#222" stroke-width="1" stroke-linecap="butt" />
<line x1="379.9" y1="704" x2="389.5" y2="704" stroke="#222" stroke-width="1" stroke-linecap="butt" />
<line x1="414.1" y1="704" x2="423.7" y2="704" stroke="#222" stroke-width="1" stroke-linecap="butt" />
<line x1="418.9" y1="699.2" x2="418.9" y2="708.8" stroke="#222" stroke-width="1" stroke-linecap="butt" />
<line x1="447.8" y1="704" x2="457.4" y2="704" stroke="#222" stroke-width="1" stroke-linecap="butt" />
<line x1="480.8" y1="704" x2="490.4" y2="704" stroke="#222" stroke-width="1" stroke-linecap="butt" />
<line x1="485.6" y1="699.2" x2="485.6" y2="708.8" stroke="#222" stroke-width="1" stroke-linecap="butt" />
<text x="130" y="750" font-size="21" text-anchor="end" font-family='"Liberation Sans", sans-serif' fill="#000" >Caspase 3</text>
<text x="34.5" y="838.5" font-size="21" text-anchor="start" font-family='"Liberation Sans", sans-serif' fill="#000" >Cleaved</text>
<text x="130" y="864.5" font-size="21" text-anchor="end" font-family='"Liberation Sans", sans-serif' fill="#000" >Caspase 3</text>
<text x="130" y="901.5" font-size="21" text-anchor="end" font-family='"Liberation Sans", sans-serif' fill="#000" >β-actin</text>
<text x="513" y="712.6" font-size="13.7" text-anchor="start" font-family='"Liberation Sans", sans-serif' fill="#000" >KDa</text>
<line x1="509.4" y1="756.4" x2="517.5" y2="756.4" stroke="#000" stroke-width="1.3" stroke-linecap="butt" />
<text x="521.5" y="761.2" font-size="13.3" text-anchor="start" font-family='"Liberation Sans", sans-serif' fill="#000" >35</text>
<line x1="509.4" y1="854.3" x2="517.5" y2="854.3" stroke="#000" stroke-width="1.3" stroke-linecap="butt" />
<text x="521.5" y="859.1" font-size="13.3" text-anchor="start" font-family='"Liberation Sans", sans-serif' fill="#000" >15</text>
<line x1="509.4" y1="896" x2="517.5" y2="896" stroke="#000" stroke-width="1.3" stroke-linecap="butt" />
<text x="521.5" y="900.8" font-size="13.3" text-anchor="start" font-family='"Liberation Sans", sans-serif' fill="#000" >40</text>
<g clip-path="url(#cp13)">
<rect x="136.5" y="713.2" width="156.6" height="152.2" fill="#f6f6f6"/>
<rect x="126.5" y="699.2" width="176.6" height="62" fill="#000" opacity="0.17" filter="url(#b70)"/>
<rect x="142.5" y="735.4" width="144" height="22" rx="11" ry="11" fill="#000" opacity="1.0" filter="url(#b16)"/>
<rect x="136.5" y="728.5" width="156" height="36" rx="18" ry="18" fill="#000" opacity="0.3" filter="url(#b40)"/>
<rect x="143" y="731.7" width="41" height="27" rx="13.5" ry="13.5" fill="#000" opacity="1.0" filter="url(#b16)"/>
<rect x="177.5" y="732.9" width="41" height="27" rx="13.5" ry="13.5" fill="#000" opacity="1.0" filter="url(#b16)"/>
<rect x="213" y="733.1" width="41" height="27" rx="13.5" ry="13.5" fill="#000" opacity="1.0" filter="url(#b16)"/>
<rect x="246.5" y="733.7" width="41" height="27" rx="13.5" ry="13.5" fill="#000" opacity="1.0" filter="url(#b16)"/>
<rect x="146" y="837.4" width="24" height="3.2" rx="2.72" ry="1.6" fill="#000" opacity="0.09" filter="url(#b16)"/>
<rect x="182" y="838" width="22" height="3" rx="2.55" ry="1.5" fill="#000" opacity="0.08" filter="url(#b16)"/>
<rect x="218" y="838.5" width="24" height="3" rx="2.55" ry="1.5" fill="#000" opacity="0.08" filter="url(#b16)"/>
<rect x="253" y="839.5" width="22" height="3" rx="2.55" ry="1.5" fill="#000" opacity="0.07" filter="url(#b16)"/>
</g>
<rect x="136.5" y="713.2" width="156.6" height="152.2" fill="none" stroke="#111" stroke-width="1.2"/>
<g clip-path="url(#cp14)">
<rect x="298.6" y="713.2" width="209.4" height="152.2" fill="#f7f7f7"/>
<rect x="288.6" y="699.2" width="229.4" height="52" fill="#000" opacity="0.10" filter="url(#b70)"/>
<rect x="303.75" y="733.25" width="28.5" height="17.5" rx="8.75" ry="8.75" fill="#000" opacity="1.0" filter="url(#b12)"/>
<rect x="300" y="729" width="36" height="28" rx="14" ry="14" fill="#000" opacity="0.22" filter="url(#b40)"/>
<rect x="336.75" y="731.75" width="28.5" height="17.5" rx="8.75" ry="8.75" fill="#000" opacity="1.0" filter="url(#b12)"/>
<rect x="333" y="727.5" width="36" height="28" rx="14" ry="14" fill="#000" opacity="0.22" filter="url(#b40)"/>
<rect x="370.45" y="731.05" width="28.5" height="17.5" rx="8.75" ry="8.75" fill="#000" opacity="1.0" filter="url(#b12)"/>
<rect x="366.7" y="726.8" width="36" height="28" rx="14" ry="14" fill="#000" opacity="0.22" filter="url(#b40)"/>
<rect x="404.65" y="730.75" width="28.5" height="17.5" rx="8.75" ry="8.75" fill="#000" opacity="1.0" filter="url(#b12)"/>
<rect x="400.9" y="726.5" width="36" height="28" rx="14" ry="14" fill="#000" opacity="0.22" filter="url(#b40)"/>
<rect x="438.35" y="729.75" width="28.5" height="17.5" rx="8.75" ry="8.75" fill="#000" opacity="1.0" filter="url(#b12)"/>
<rect x="434.6" y="725.5" width="36" height="28" rx="14" ry="14" fill="#000" opacity="0.22" filter="url(#b40)"/>
<rect x="471.35" y="730.05" width="28.5" height="17.5" rx="8.75" ry="8.75" fill="#000" opacity="1.0" filter="url(#b12)"/>
<rect x="467.6" y="725.8" width="36" height="28" rx="14" ry="14" fill="#000" opacity="0.22" filter="url(#b40)"/>
<rect x="307" y="834.9" width="22" height="3.2" rx="2.72" ry="1.6" fill="#000" opacity="0.09" filter="url(#b12)"/>
<rect x="341" y="834.5" width="20" height="3" rx="2.55" ry="1.5" fill="#000" opacity="0.05" filter="url(#b12)"/>
<rect x="372.7" y="833.2" width="24" height="3.6" rx="3.06" ry="1.8" fill="#000" opacity="0.1" filter="url(#b12)"/>
<rect x="408.9" y="833.5" width="20" height="3" rx="2.55" ry="1.5" fill="#000" opacity="0.05" filter="url(#b12)"/>
<rect x="440.6" y="829.6" width="24" height="4" rx="3.4" ry="2" fill="#000" opacity="0.11" filter="url(#b12)"/>
<rect x="474.6" y="830.3" width="22" height="3.4" rx="2.89" ry="1.7" fill="#000" opacity="0.07" filter="url(#b12)"/>
</g>
<rect x="298.6" y="713.2" width="209.4" height="152.2" fill="none" stroke="#111" stroke-width="1.2"/>
<g clip-path="url(#cp15)">
<rect x="136.5" y="870.1" width="156.6" height="40" fill="#ececec"/>
<rect x="142.5" y="883" width="32" height="14" rx="7" ry="7" fill="#000" opacity="0.08" filter="url(#b40)"/>
<rect x="177.3" y="883" width="32" height="14" rx="7" ry="7" fill="#000" opacity="0.08" filter="url(#b40)"/>
<rect x="214" y="883" width="32" height="14" rx="7" ry="7" fill="#000" opacity="0.08" filter="url(#b40)"/>
<rect x="250.7" y="883" width="32" height="14" rx="7" ry="7" fill="#000" opacity="0.08" filter="url(#b40)"/>
<rect x="145" y="887.3" width="27" height="7.4" rx="6.29" ry="3.7" fill="#000" opacity="0.97" filter="url(#b09)"/>
<rect x="179.8" y="886.8" width="27" height="7.6" rx="6.46" ry="3.8" fill="#000" opacity="0.97" filter="url(#b09)"/>
<rect x="217.5" y="887.2" width="25" height="6" rx="5.1" ry="3" fill="#000" opacity="0.95" filter="url(#b09)"/>
<rect x="253.2" y="884.9" width="27" height="7.4" rx="6.29" ry="3.7" fill="#000" opacity="0.97" filter="url(#b09)"/>
</g>
<rect x="136.5" y="870.1" width="156.6" height="40" fill="none" stroke="#111" stroke-width="1.2"/>
<g clip-path="url(#cp16)">
<rect x="298.6" y="870.1" width="209.4" height="40" fill="#f0f0f0"/>
<rect x="305" y="887.9" width="26" height="5" rx="4.25" ry="2.5" fill="#000" opacity="0.95" filter="url(#b09)"/>
<rect x="338" y="888.2" width="26" height="4.8" rx="4.08" ry="2.4" fill="#000" opacity="0.95" filter="url(#b09)"/>
<rect x="371.7" y="886.9" width="26" height="5" rx="4.25" ry="2.5" fill="#000" opacity="0.95" filter="url(#b09)"/>
<rect x="405.9" y="887.9" width="26" height="4.6" rx="3.91" ry="2.3" fill="#000" opacity="0.95" filter="url(#b09)"/>
<rect x="439.6" y="886.9" width="26" height="4.6" rx="3.91" ry="2.3" fill="#000" opacity="0.95" filter="url(#b09)"/>
<rect x="472.6" y="887.2" width="26" height="4.8" rx="4.08" ry="2.4" fill="#000" opacity="0.95" filter="url(#b09)"/>
</g>
<rect x="298.6" y="870.1" width="209.4" height="40" fill="none" stroke="#111" stroke-width="1.2"/>
<rect x="595.37" y="801.22" width="18.65" height="67.83" fill="#999999" stroke="none" stroke-width="0" />
<rect x="614.02" y="797.83" width="18.65" height="71.22" fill="#0071bc" stroke="none" stroke-width="0" />
<rect x="651.17" y="780.87" width="18.65" height="88.18" fill="#999999" stroke="none" stroke-width="0" />
<rect x="669.83" y="791.97" width="18.65" height="77.08" fill="#0071bc" stroke="none" stroke-width="0" />
<rect x="707.29" y="787.96" width="18.65" height="81.09" fill="#999999" stroke="none" stroke-width="0" />
<rect x="725.95" y="790.12" width="18.65" height="78.93" fill="#0071bc" stroke="none" stroke-width="0" />
<rect x="763.41" y="801.22" width="18.65" height="67.83" fill="#999999" stroke="none" stroke-width="0" />
<rect x="782.06" y="785.8" width="18.65" height="83.25" fill="#0071bc" stroke="none" stroke-width="0" />
<rect x="819.22" y="796.59" width="18.65" height="72.46" fill="#999999" stroke="none" stroke-width="0" />
<rect x="837.87" y="794.12" width="18.65" height="74.92" fill="#0071bc" stroke="none" stroke-width="0" />
<line x1="585.8" y1="711.6" x2="585.8" y2="869.9" stroke="#000" stroke-width="1.85" stroke-linecap="butt" />
<line x1="578.6" y1="869" x2="868" y2="869" stroke="#000" stroke-width="1.75" stroke-linecap="butt" />
<line x1="578.6" y1="869.05" x2="585.8" y2="869.05" stroke="#000" stroke-width="1.8" stroke-linecap="butt" />
<text x="575.3" y="873.55" font-size="16.5" text-anchor="end" font-family='"Liberation Sans", sans-serif' fill="#000" >0</text>
<line x1="578.6" y1="790.73" x2="585.8" y2="790.73" stroke="#000" stroke-width="1.8" stroke-linecap="butt" />
<text x="575.3" y="795.23" font-size="16.5" text-anchor="end" font-family='"Liberation Sans", sans-serif' fill="#000" >1</text>
<line x1="578.6" y1="712.42" x2="585.8" y2="712.42" stroke="#000" stroke-width="1.8" stroke-linecap="butt" />
<text x="575.3" y="716.92" font-size="16.5" text-anchor="end" font-family='"Liberation Sans", sans-serif' fill="#000" >2</text>
<line x1="604.69" y1="798.13" x2="604.69" y2="804.3" stroke="#000" stroke-width="1" stroke-linecap="butt" />
<line x1="600.69" y1="798.13" x2="608.69" y2="798.13" stroke="#000" stroke-width="1" stroke-linecap="butt" />
<line x1="600.69" y1="804.3" x2="608.69" y2="804.3" stroke="#000" stroke-width="1" stroke-linecap="butt" />
<line x1="623.35" y1="786.42" x2="623.35" y2="808.62" stroke="#000" stroke-width="1" stroke-linecap="butt" />
<line x1="619.35" y1="786.42" x2="627.35" y2="786.42" stroke="#000" stroke-width="1" stroke-linecap="butt" />
<line x1="619.35" y1="808.62" x2="627.35" y2="808.62" stroke="#000" stroke-width="1" stroke-linecap="butt" />
<circle cx="601.84" cy="799.37" r="2.45" fill="#000"/>
<circle cx="607.08" cy="799.37" r="2.45" fill="#000"/>
<circle cx="604.62" cy="805.53" r="2.45" fill="#000"/>
<circle cx="623.42" cy="776.55" r="2.45" fill="#000"/>
<circle cx="623.42" cy="804.3" r="2.45" fill="#000"/>
<circle cx="623.42" cy="811.7" r="2.45" fill="#000"/>
<line x1="599.38" y1="764.83" x2="623.12" y2="764.83" stroke="#000" stroke-width="1.95" stroke-linecap="butt" />
<text x="0" y="0" font-size="16.8" text-anchor="middle" font-family='"Liberation Sans", sans-serif' fill="#000" transform="translate(611.25 760.63) scale(0.9 1)" >ns</text>
<text x="624.52" y="880" font-size="16.9" text-anchor="end" font-family='"Liberation Sans", sans-serif' fill="#000" transform="rotate(-45 624.52 880)" >HK-2</text>
<line x1="660.5" y1="767.3" x2="660.5" y2="793.51" stroke="#000" stroke-width="1" stroke-linecap="butt" />
<line x1="656.5" y1="767.3" x2="664.5" y2="767.3" stroke="#000" stroke-width="1" stroke-linecap="butt" />
<line x1="656.5" y1="793.51" x2="664.5" y2="793.51" stroke="#000" stroke-width="1" stroke-linecap="butt" />
<line x1="679.16" y1="788.58" x2="679.16" y2="795.05" stroke="#000" stroke-width="1" stroke-linecap="butt" />
<line x1="675.16" y1="788.58" x2="683.16" y2="788.58" stroke="#000" stroke-width="1" stroke-linecap="butt" />
<line x1="675.16" y1="795.05" x2="683.16" y2="795.05" stroke="#000" stroke-width="1" stroke-linecap="butt" />
<circle cx="660.42" cy="754.04" r="2.45" fill="#000"/>
<circle cx="660.42" cy="788.88" r="2.45" fill="#000"/>
<circle cx="660.42" cy="797.83" r="2.45" fill="#000"/>
<circle cx="679.54" cy="785.8" r="2.45" fill="#000"/>
<circle cx="677.08" cy="793.51" r="2.45" fill="#000"/>
<circle cx="682.01" cy="793.51" r="2.45" fill="#000"/>
<line x1="655.49" y1="746.33" x2="679.54" y2="746.33" stroke="#000" stroke-width="1.95" stroke-linecap="butt" />
<text x="0" y="0" font-size="16.8" text-anchor="middle" font-family='"Liberation Sans", sans-serif' fill="#000" transform="translate(667.52 742.13) scale(0.9 1)" >ns</text>
<text x="680.33" y="880" font-size="16.9" text-anchor="end" font-family='"Liberation Sans", sans-serif' fill="#000" transform="rotate(-45 680.33 880)" >769P</text>
<line x1="716.62" y1="783.33" x2="716.62" y2="792.58" stroke="#000" stroke-width="1" stroke-linecap="butt" />
<line x1="712.62" y1="783.33" x2="720.62" y2="783.33" stroke="#000" stroke-width="1" stroke-linecap="butt" />
<line x1="712.62" y1="792.58" x2="720.62" y2="792.58" stroke="#000" stroke-width="1" stroke-linecap="butt" />
<line x1="735.27" y1="787.03" x2="735.27" y2="793.2" stroke="#000" stroke-width="1" stroke-linecap="butt" />
<line x1="731.27" y1="787.03" x2="739.27" y2="787.03" stroke="#000" stroke-width="1" stroke-linecap="butt" />
<line x1="731.27" y1="793.2" x2="739.27" y2="793.2" stroke="#000" stroke-width="1" stroke-linecap="butt" />
<circle cx="716.54" cy="779.63" r="2.45" fill="#000"/>
<circle cx="714.08" cy="791.97" r="2.45" fill="#000"/>
<circle cx="719.01" cy="790.42" r="2.45" fill="#000"/>
<circle cx="735.04" cy="786.42" r="2.45" fill="#000"/>
<circle cx="732.58" cy="791.97" r="2.45" fill="#000"/>
<circle cx="737.51" cy="790.42" r="2.45" fill="#000"/>
<line x1="714.08" y1="764.83" x2="738.12" y2="764.83" stroke="#000" stroke-width="1.95" stroke-linecap="butt" />
<text x="0" y="0" font-size="16.8" text-anchor="middle" font-family='"Liberation Sans", sans-serif' fill="#000" transform="translate(726.1 760.63) scale(0.9 1)" >ns</text>
<text x="736.45" y="880" font-size="16.9" text-anchor="end" font-family='"Liberation Sans", sans-serif' fill="#000" transform="rotate(-45 736.45 880)" >ACHN</text>
<line x1="772.74" y1="798.75" x2="772.74" y2="803.99" stroke="#000" stroke-width="1" stroke-linecap="butt" />
<line x1="768.74" y1="798.75" x2="776.74" y2="798.75" stroke="#000" stroke-width="1" stroke-linecap="butt" />
<line x1="768.74" y1="803.99" x2="776.74" y2="803.99" stroke="#000" stroke-width="1" stroke-linecap="butt" />
<line x1="791.39" y1="776.24" x2="791.39" y2="795.05" stroke="#000" stroke-width="1" stroke-linecap="butt" />
<line x1="787.39" y1="776.24" x2="795.39" y2="776.24" stroke="#000" stroke-width="1" stroke-linecap="butt" />
<line x1="787.39" y1="795.05" x2="795.39" y2="795.05" stroke="#000" stroke-width="1" stroke-linecap="butt" />
<circle cx="769.88" cy="797.83" r="2.45" fill="#000"/>
<circle cx="775.12" cy="800.29" r="2.45" fill="#000"/>
<circle cx="772.66" cy="805.53" r="2.45" fill="#000"/>
<circle cx="791.47" cy="766.99" r="2.45" fill="#000"/>
<circle cx="794.55" cy="792.58" r="2.45" fill="#000"/>
<circle cx="789" cy="795.67" r="2.45" fill="#000"/>
<line x1="768.03" y1="760.21" x2="792.08" y2="760.21" stroke="#000" stroke-width="1.95" stroke-linecap="butt" />
<text x="0" y="0" font-size="16.8" text-anchor="middle" font-family='"Liberation Sans", sans-serif' fill="#000" transform="translate(780.06 756.01) scale(0.9 1)" >ns</text>
<text x="792.56" y="880" font-size="16.9" text-anchor="end" font-family='"Liberation Sans", sans-serif' fill="#000" transform="rotate(-45 792.56 880)" >CAKi-1</text>
<line x1="828.54" y1="792.58" x2="828.54" y2="800.91" stroke="#000" stroke-width="1" stroke-linecap="butt" />
<line x1="824.54" y1="792.58" x2="832.54" y2="792.58" stroke="#000" stroke-width="1" stroke-linecap="butt" />
<line x1="824.54" y1="800.91" x2="832.54" y2="800.91" stroke="#000" stroke-width="1" stroke-linecap="butt" />
<line x1="847.2" y1="788.58" x2="847.2" y2="799.37" stroke="#000" stroke-width="1" stroke-linecap="butt" />
<line x1="843.2" y1="788.58" x2="851.2" y2="788.58" stroke="#000" stroke-width="1" stroke-linecap="butt" />
<line x1="843.2" y1="799.37" x2="851.2" y2="799.37" stroke="#000" stroke-width="1" stroke-linecap="butt" />
<circle cx="828.47" cy="789.5" r="2.45" fill="#000"/>
<circle cx="830.62" cy="797.21" r="2.45" fill="#000"/>
<circle cx="826" cy="801.83" r="2.45" fill="#000"/>
<circle cx="847.58" cy="785.8" r="2.45" fill="#000"/>
<circle cx="847.58" cy="794.74" r="2.45" fill="#000"/>
<circle cx="847.58" cy="802.76" r="2.45" fill="#000"/>
<line x1="826.92" y1="778.09" x2="851.28" y2="778.09" stroke="#000" stroke-width="1.95" stroke-linecap="butt" />
<text x="0" y="0" font-size="16.8" text-anchor="middle" font-family='"Liberation Sans", sans-serif' fill="#000" transform="translate(839.1 773.89) scale(0.9 1)" >ns</text>
<text x="848.37" y="880" font-size="16.9" text-anchor="end" font-family='"Liberation Sans", sans-serif' fill="#000" transform="rotate(-45 848.37 880)" >786-O</text>
<rect x="597.2" y="681.9" width="21.3" height="8.5" fill="#999999" stroke="none" stroke-width="0" />
<rect x="597.2" y="696.2" width="21.3" height="8.5" fill="#0071bc" stroke="none" stroke-width="0" />
<text x="624.8" y="689.6" font-size="14.1" text-anchor="start" font-family='"Liberation Sans", sans-serif' fill="#000" >DMSO</text>
<text x="624.8" y="704.1" font-size="14.1" text-anchor="start" font-family='"Liberation Sans", sans-serif' fill="#000" >Sal</text>
<text x="556.8" y="790.5" font-size="18.3" text-anchor="middle" font-family='"Liberation Sans", sans-serif' fill="#000" transform="rotate(-90 556.8 790.5)" >Cleaved Caspase 3/β-actin</text>
<text x="887" y="675.5" font-size="34" text-anchor="start" font-family='"Liberation Sans", sans-serif' fill="#000" >G</text>
<text x="1088.5" y="673.5" font-size="23.5" text-anchor="middle" font-family='"Liberation Sans", sans-serif' fill="#000" >786-O</text>
<rect x="1005.14" y="909.05" width="20.44" height="3.36" fill="#fff" stroke="#111" stroke-width="1.2" />
<rect x="1031.18" y="797.62" width="21" height="114.79" fill="#fff" stroke="#111" stroke-width="1.2" />
<rect x="1058.34" y="849.41" width="21" height="62.99" fill="#fff" stroke="#111" stroke-width="1.2" />
<rect x="1085.21" y="836.54" width="21" height="75.87" fill="#fff" stroke="#111" stroke-width="1.2" />
<rect x="1111.81" y="835.98" width="21" height="76.43" fill="#fff" stroke="#111" stroke-width="1.2" />
<rect x="1138.41" y="809.1" width="21.28" height="103.31" fill="#fff" stroke="#111" stroke-width="1.2" />
<rect x="1165.56" y="804.34" width="21" height="108.07" fill="#fff" stroke="#111" stroke-width="1.2" />
<line x1="994.8" y1="726.1" x2="994.8" y2="913.2" stroke="#000" stroke-width="1.4" stroke-linecap="butt" />
<line x1="985.3" y1="912.4" x2="1200" y2="912.4" stroke="#000" stroke-width="1.6" stroke-linecap="butt" />
<line x1="985.3" y1="912.41" x2="994.8" y2="912.41" stroke="#000" stroke-width="1.4" stroke-linecap="butt" />
<text x="979.5" y="918.03" font-size="16" text-anchor="end" font-family='"Liberation Sans", sans-serif' fill="#000" >0</text>
<line x1="985.3" y1="866" x2="994.8" y2="866" stroke="#000" stroke-width="1.4" stroke-linecap="butt" />
<text x="979.5" y="869.68" font-size="16" text-anchor="end" font-family='"Liberation Sans", sans-serif' fill="#000" >20</text>
<line x1="985.3" y1="819.6" x2="994.8" y2="819.6" stroke="#000" stroke-width="1.4" stroke-linecap="butt" />
<text x="979.5" y="821.33" font-size="16" text-anchor="end" font-family='"Liberation Sans", sans-serif' fill="#000" >40</text>
<line x1="985.3" y1="773.19" x2="994.8" y2="773.19" stroke="#000" stroke-width="1.4" stroke-linecap="butt" />
<text x="979.5" y="772.98" font-size="16" text-anchor="end" font-family='"Liberation Sans", sans-serif' fill="#000" >60</text>
<line x1="985.3" y1="726.79" x2="994.8" y2="726.79" stroke="#000" stroke-width="1.4" stroke-linecap="butt" />
<text x="979.5" y="724.63" font-size="16" text-anchor="end" font-family='"Liberation Sans", sans-serif' fill="#000" >80</text>
<circle cx="1007.38" cy="907.93" r="2.4" fill="#111"/>
<circle cx="1009.34" cy="909.61" r="2.4" fill="#111"/>
<circle cx="1012.14" cy="910.45" r="2.4" fill="#111"/>
<circle cx="1015.78" cy="911.01" r="2.4" fill="#111"/>
<circle cx="1019.42" cy="910.45" r="2.4" fill="#111"/>
<circle cx="1022.22" cy="909.89" r="2.4" fill="#111"/>
<line x1="1041.68" y1="790.62" x2="1041.68" y2="804.62" stroke="#000" stroke-width="1.1" stroke-linecap="butt" />
<line x1="1036.43" y1="790.62" x2="1046.93" y2="790.62" stroke="#000" stroke-width="1.1" stroke-linecap="butt" />
<line x1="1036.43" y1="804.62" x2="1046.93" y2="804.62" stroke="#000" stroke-width="1.1" stroke-linecap="butt" />
<circle cx="1041.54" cy="779.98" r="2.4" fill="#f7651c"/>
<circle cx="1045.18" cy="791.18" r="2.4" fill="#f7651c"/>
<circle cx="1038.18" cy="793.42" r="2.4" fill="#f7651c"/>
<circle cx="1041.54" cy="803.22" r="2.4" fill="#f7651c"/>
<circle cx="1041.54" cy="821.14" r="2.4" fill="#f7651c"/>
<line x1="1068.84" y1="846.61" x2="1068.84" y2="852.21" stroke="#000" stroke-width="1.1" stroke-linecap="butt" />
<line x1="1063.59" y1="846.61" x2="1074.09" y2="846.61" stroke="#000" stroke-width="1.1" stroke-linecap="butt" />
<line x1="1063.59" y1="852.21" x2="1074.09" y2="852.21" stroke="#000" stroke-width="1.1" stroke-linecap="butt" />
<circle cx="1064.78" cy="842.41" r="2.4" fill="#b960e4"/>
<circle cx="1071.78" cy="842.41" r="2.4" fill="#b960e4"/>
<circle cx="1068.14" cy="849.41" r="2.4" fill="#b960e4"/>
<circle cx="1071.78" cy="855.57" r="2.4" fill="#b960e4"/>
<circle cx="1064.78" cy="857.81" r="2.4" fill="#b960e4"/>
<line x1="1095.71" y1="832.62" x2="1095.71" y2="840.45" stroke="#000" stroke-width="1.1" stroke-linecap="butt" />
<line x1="1090.46" y1="832.62" x2="1100.96" y2="832.62" stroke="#000" stroke-width="1.1" stroke-linecap="butt" />
<line x1="1090.46" y1="840.45" x2="1100.96" y2="840.45" stroke="#000" stroke-width="1.1" stroke-linecap="butt" />
<circle cx="1095.01" cy="823.94" r="2.4" fill="#4a0f6e"/>
<circle cx="1095.01" cy="833.18" r="2.4" fill="#4a0f6e"/>
<circle cx="1091.37" cy="837.94" r="2.4" fill="#4a0f6e"/>
<circle cx="1098.37" cy="841.57" r="2.4" fill="#4a0f6e"/>
<circle cx="1091.93" cy="848.57" r="2.4" fill="#4a0f6e"/>
<line x1="1122.31" y1="829.82" x2="1122.31" y2="842.13" stroke="#000" stroke-width="1.1" stroke-linecap="butt" />
<line x1="1117.06" y1="829.82" x2="1127.56" y2="829.82" stroke="#000" stroke-width="1.1" stroke-linecap="butt" />
<line x1="1117.06" y1="842.13" x2="1127.56" y2="842.13" stroke="#000" stroke-width="1.1" stroke-linecap="butt" />
<circle cx="1125.53" cy="821.42" r="2.4" fill="#1b79cf"/>
<circle cx="1118.53" cy="825.62" r="2.4" fill="#1b79cf"/>
<circle cx="1122.17" cy="835.14" r="2.4" fill="#1b79cf"/>
<circle cx="1125.53" cy="839.62" r="2.4" fill="#1b79cf"/>
<circle cx="1122.17" cy="858.37" r="2.4" fill="#1b79cf"/>
<line x1="1149.05" y1="806.02" x2="1149.05" y2="812.18" stroke="#000" stroke-width="1.1" stroke-linecap="butt" />
<line x1="1143.8" y1="806.02" x2="1154.3" y2="806.02" stroke="#000" stroke-width="1.1" stroke-linecap="butt" />
<line x1="1143.8" y1="812.18" x2="1154.3" y2="812.18" stroke="#000" stroke-width="1.1" stroke-linecap="butt" />
<circle cx="1145.41" cy="800.98" r="2.4" fill="#18b818"/>
<circle cx="1152.97" cy="800.98" r="2.4" fill="#18b818"/>
<circle cx="1141.77" cy="812.18" r="2.4" fill="#18b818"/>
<circle cx="1155.77" cy="814.98" r="2.4" fill="#18b818"/>
<circle cx="1148.77" cy="817.78" r="2.4" fill="#18b818"/>
<line x1="1176.06" y1="799.02" x2="1176.06" y2="809.66" stroke="#000" stroke-width="1.1" stroke-linecap="butt" />
<line x1="1170.81" y1="799.02" x2="1181.31" y2="799.02" stroke="#000" stroke-width="1.1" stroke-linecap="butt" />
<line x1="1170.81" y1="809.66" x2="1181.31" y2="809.66" stroke="#000" stroke-width="1.1" stroke-linecap="butt" />
<circle cx="1172.56" cy="790.62" r="2.4" fill="#5a5cf2"/>
<circle cx="1179" cy="795.94" r="2.4" fill="#5a5cf2"/>
<circle cx="1172.56" cy="803.22" r="2.4" fill="#5a5cf2"/>
<circle cx="1175.92" cy="811.34" r="2.4" fill="#5a5cf2"/>
<circle cx="1175.92" cy="821.98" r="2.4" fill="#5a5cf2"/>
<line x1="1043.22" y1="702.43" x2="1180.12" y2="702.43" stroke="#000" stroke-width="1.95" stroke-linecap="butt" />
<text x="0" y="0" font-size="16.8" text-anchor="middle" font-family='"Liberation Sans", sans-serif' fill="#000" transform="translate(1108.17 699.23) scale(0.9 1)" >ns</text>
<line x1="1045.18" y1="721.19" x2="1151.57" y2="721.19" stroke="#000" stroke-width="1.95" stroke-linecap="butt" />
<text x="0" y="0" font-size="16.8" text-anchor="middle" font-family='"Liberation Sans", sans-serif' fill="#000" transform="translate(1098.37 717.99) scale(0.9 1)" >ns</text>
<line x1="1045.18" y1="739.39" x2="1133.37" y2="739.39" stroke="#000" stroke-width="1.95" stroke-linecap="butt" />
<text x="1088.57" y="741.37" font-size="18.4" text-anchor="middle" font-family='"Liberation Serif", serif' fill="#222" >****</text>
<line x1="1045.18" y1="757.59" x2="1093.33" y2="757.59" stroke="#000" stroke-width="1.95" stroke-linecap="butt" />
<text x="1070.38" y="759.57" font-size="18.4" text-anchor="middle" font-family='"Liberation Serif", serif' fill="#222" >****</text>
<line x1="1007.94" y1="773.54" x2="1042.38" y2="773.54" stroke="#000" stroke-width="1.95" stroke-linecap="butt" />
<text x="1023.34" y="776.02" font-size="20.5" text-anchor="middle" font-family='"Liberation Serif", serif' fill="#222" >****</text>
<line x1="1047.98" y1="789.78" x2="1071.78" y2="789.78" stroke="#000" stroke-width="1.95" stroke-linecap="butt" />
<text x="1067.58" y="792.26" font-size="20.5" text-anchor="middle" font-family='"Liberation Serif", serif' fill="#222" >****</text>
<text x="946.8" y="817.5" font-size="20.8" text-anchor="middle" font-family='"Liberation Sans", sans-serif' fill="#000" transform="rotate(-90 946.8 817.5)" >Growth inhibition (%)</text>
<text x="993.3" y="934" font-size="16.3" text-anchor="end" font-family='"Liberation Sans", sans-serif' fill="#000" >Sal</text>
<line x1="1008.9" y1="929.3" x2="1019.1" y2="929.3" stroke="#222" stroke-width="1" stroke-linecap="butt" />
<line x1="1034.9" y1="929.3" x2="1045.1" y2="929.3" stroke="#222" stroke-width="1" stroke-linecap="butt" />
<line x1="1040" y1="924.2" x2="1040" y2="934.4" stroke="#222" stroke-width="1" stroke-linecap="butt" />
<line x1="1067.4" y1="929.3" x2="1077.6" y2="929.3" stroke="#222" stroke-width="1" stroke-linecap="butt" />
<line x1="1072.5" y1="924.2" x2="1072.5" y2="934.4" stroke="#222" stroke-width="1" stroke-linecap="butt" />
<line x1="1093.6" y1="929.3" x2="1103.8" y2="929.3" stroke="#222" stroke-width="1" stroke-linecap="butt" />
<line x1="1098.7" y1="924.2" x2="1098.7" y2="934.4" stroke="#222" stroke-width="1" stroke-linecap="butt" />
<line x1="1120.2" y1="929.3" x2="1130.4" y2="929.3" stroke="#222" stroke-width="1" stroke-linecap="butt" />
<line x1="1125.3" y1="924.2" x2="1125.3" y2="934.4" stroke="#222" stroke-width="1" stroke-linecap="butt" />
<line x1="1146.4" y1="929.3" x2="1156.6" y2="929.3" stroke="#222" stroke-width="1" stroke-linecap="butt" />
<line x1="1151.5" y1="924.2" x2="1151.5" y2="934.4" stroke="#222" stroke-width="1" stroke-linecap="butt" />
<line x1="1172.9" y1="929.3" x2="1183.1" y2="929.3" stroke="#222" stroke-width="1" stroke-linecap="butt" />
<line x1="1178" y1="924.2" x2="1178" y2="934.4" stroke="#222" stroke-width="1" stroke-linecap="butt" />
<text x="993.3" y="953.5" font-size="16.3" text-anchor="end" font-family='"Liberation Sans", sans-serif' fill="#000" >Fer-1</text>
<line x1="1008.9" y1="945.6" x2="1019.1" y2="945.6" stroke="#222" stroke-width="1" stroke-linecap="butt" />
<line x1="1034.9" y1="945.6" x2="1045.1" y2="945.6" stroke="#222" stroke-width="1" stroke-linecap="butt" />
<line x1="1067.4" y1="945.6" x2="1077.6" y2="945.6" stroke="#222" stroke-width="1" stroke-linecap="butt" />
<line x1="1072.5" y1="940.5" x2="1072.5" y2="950.7" stroke="#222" stroke-width="1" stroke-linecap="butt" />
<line x1="1093.6" y1="945.6" x2="1103.8" y2="945.6" stroke="#222" stroke-width="1" stroke-linecap="butt" />
<line x1="1120.2" y1="945.6" x2="1130.4" y2="945.6" stroke="#222" stroke-width="1" stroke-linecap="butt" />
<line x1="1146.4" y1="945.6" x2="1156.6" y2="945.6" stroke="#222" stroke-width="1" stroke-linecap="butt" />
<line x1="1172.9" y1="945.6" x2="1183.1" y2="945.6" stroke="#222" stroke-width="1" stroke-linecap="butt" />
<text x="993.3" y="972.3" font-size="16.3" text-anchor="end" font-family='"Liberation Sans", sans-serif' fill="#000" >Lip-1</text>
<line x1="1008.9" y1="966" x2="1019.1" y2="966" stroke="#222" stroke-width="1" stroke-linecap="butt" />
<line x1="1034.9" y1="966" x2="1045.1" y2="966" stroke="#222" stroke-width="1" stroke-linecap="butt" />
<line x1="1067.4" y1="966" x2="1077.6" y2="966" stroke="#222" stroke-width="1" stroke-linecap="butt" />
<line x1="1093.6" y1="966" x2="1103.8" y2="966" stroke="#222" stroke-width="1" stroke-linecap="butt" />
<line x1="1098.7" y1="960.9" x2="1098.7" y2="971.1" stroke="#222" stroke-width="1" stroke-linecap="butt" />
<line x1="1120.2" y1="966" x2="1130.4" y2="966" stroke="#222" stroke-width="1" stroke-linecap="butt" />
<line x1="1146.4" y1="966" x2="1156.6" y2="966" stroke="#222" stroke-width="1" stroke-linecap="butt" />
<line x1="1172.9" y1="966" x2="1183.1" y2="966" stroke="#222" stroke-width="1" stroke-linecap="butt" />
<text x="993.3" y="992" font-size="16.3" text-anchor="end" font-family='"Liberation Sans", sans-serif' fill="#000" >DFO</text>
<line x1="1008.9" y1="984.8" x2="1019.1" y2="984.8" stroke="#222" stroke-width="1" stroke-linecap="butt" />
<line x1="1034.9" y1="984.8" x2="1045.1" y2="984.8" stroke="#222" stroke-width="1" stroke-linecap="butt" />
<line x1="1067.4" y1="984.8" x2="1077.6" y2="984.8" stroke="#222" stroke-width="1" stroke-linecap="butt" />
<line x1="1093.6" y1="984.8" x2="1103.8" y2="984.8" stroke="#222" stroke-width="1" stroke-linecap="butt" />
<line x1="1120.2" y1="984.8" x2="1130.4" y2="984.8" stroke="#222" stroke-width="1" stroke-linecap="butt" />
<line x1="1125.3" y1="979.7" x2="1125.3" y2="989.9" stroke="#222" stroke-width="1" stroke-linecap="butt" />
<line x1="1146.4" y1="984.8" x2="1156.6" y2="984.8" stroke="#222" stroke-width="1" stroke-linecap="butt" />
<line x1="1172.9" y1="984.8" x2="1183.1" y2="984.8" stroke="#222" stroke-width="1" stroke-linecap="butt" />
<text x="993.3" y="1010.8" font-size="16.3" text-anchor="end" font-family='"Liberation Sans", sans-serif' fill="#000" >Z-VAD-FMK</text>
<line x1="1008.9" y1="1004.8" x2="1019.1" y2="1004.8" stroke="#222" stroke-width="1" stroke-linecap="butt" />
<line x1="1034.9" y1="1004.8" x2="1045.1" y2="1004.8" stroke="#222" stroke-width="1" stroke-linecap="butt" />
<line x1="1067.4" y1="1004.8" x2="1077.6" y2="1004.8" stroke="#222" stroke-width="1" stroke-linecap="butt" />
<line x1="1093.6" y1="1004.8" x2="1103.8" y2="1004.8" stroke="#222" stroke-width="1" stroke-linecap="butt" />
<line x1="1120.2" y1="1004.8" x2="1130.4" y2="1004.8" stroke="#222" stroke-width="1" stroke-linecap="butt" />
<line x1="1146.4" y1="1004.8" x2="1156.6" y2="1004.8" stroke="#222" stroke-width="1" stroke-linecap="butt" />
<line x1="1151.5" y1="999.7" x2="1151.5" y2="1009.9" stroke="#222" stroke-width="1" stroke-linecap="butt" />
<line x1="1172.9" y1="1004.8" x2="1183.1" y2="1004.8" stroke="#222" stroke-width="1" stroke-linecap="butt" />
<text x="993.3" y="1027.3" font-size="16.3" text-anchor="end" font-family='"Liberation Sans", sans-serif' fill="#000" >Nec-1</text>
<line x1="1008.9" y1="1023.2" x2="1019.1" y2="1023.2" stroke="#222" stroke-width="1" stroke-linecap="butt" />
<line x1="1034.9" y1="1023.2" x2="1045.1" y2="1023.2" stroke="#222" stroke-width="1" stroke-linecap="butt" />
<line x1="1067.4" y1="1023.2" x2="1077.6" y2="1023.2" stroke="#222" stroke-width="1" stroke-linecap="butt" />
<line x1="1093.6" y1="1023.2" x2="1103.8" y2="1023.2" stroke="#222" stroke-width="1" stroke-linecap="butt" />
<line x1="1120.2" y1="1023.2" x2="1130.4" y2="1023.2" stroke="#222" stroke-width="1" stroke-linecap="butt" />
<line x1="1146.4" y1="1023.2" x2="1156.6" y2="1023.2" stroke="#222" stroke-width="1" stroke-linecap="butt" />
<line x1="1172.9" y1="1023.2" x2="1183.1" y2="1023.2" stroke="#222" stroke-width="1" stroke-linecap="butt" />
<line x1="1178" y1="1018.1" x2="1178" y2="1028.3" stroke="#222" stroke-width="1" stroke-linecap="butt" />
<text x="-1" y="974" font-size="34" text-anchor="start" font-family='"Liberation Sans", sans-serif' fill="#000" >H</text>
<text x="221" y="978.5" font-size="23.5" text-anchor="middle" font-family='"Liberation Sans", sans-serif' fill="#000" >ACHN</text>
<rect x="134.58" y="1202.25" width="24.08" height="6.23" fill="#fff" stroke="#111" stroke-width="1.2" />
<rect x="170.85" y="1081.83" width="24.65" height="126.65" fill="#fff" stroke="#111" stroke-width="1.2" />
<rect x="207.68" y="1124.33" width="24.65" height="84.15" fill="#fff" stroke="#111" stroke-width="1.2" />
<rect x="244.23" y="1095.43" width="24.37" height="113.05" fill="#fff" stroke="#111" stroke-width="1.2" />
<rect x="280.5" y="1123.2" width="24.93" height="85.28" fill="#fff" stroke="#111" stroke-width="1.2" />
<line x1="122.4" y1="1020.2" x2="122.4" y2="1209.3" stroke="#000" stroke-width="1.4" stroke-linecap="butt" />
<line x1="114.4" y1="1208.5" x2="320.2" y2="1208.5" stroke="#000" stroke-width="1.6" stroke-linecap="butt" />
<line x1="114.4" y1="1208.48" x2="122.4" y2="1208.48" stroke="#000" stroke-width="1.4" stroke-linecap="butt" />
<text x="109.9" y="1213.36" font-size="15.3" text-anchor="end" font-family='"Liberation Sans", sans-serif' fill="#000" >0</text>
<line x1="114.4" y1="1146.58" x2="122.4" y2="1146.58" stroke="#000" stroke-width="1.4" stroke-linecap="butt" />
<text x="109.9" y="1151.45" font-size="15.3" text-anchor="end" font-family='"Liberation Sans", sans-serif' fill="#000" >20</text>
<line x1="114.4" y1="1084.67" x2="122.4" y2="1084.67" stroke="#000" stroke-width="1.4" stroke-linecap="butt" />
<text x="109.9" y="1089.54" font-size="15.3" text-anchor="end" font-family='"Liberation Sans", sans-serif' fill="#000" >40</text>
<circle cx="137.98" cy="1199.42" r="2.9" fill="#111"/>
<circle cx="142.52" cy="1203.1" r="2.9" fill="#111"/>
<circle cx="146.77" cy="1204.23" r="2.9" fill="#111"/>
<circle cx="151.02" cy="1203.1" r="2.9" fill="#111"/>
<circle cx="154.98" cy="1199.98" r="2.9" fill="#111"/>
<line x1="183.18" y1="1067.67" x2="183.18" y2="1096" stroke="#000" stroke-width="1.1" stroke-linecap="butt" />
<line x1="176.93" y1="1067.67" x2="189.43" y2="1067.67" stroke="#000" stroke-width="1.1" stroke-linecap="butt" />
<line x1="176.93" y1="1096" x2="189.43" y2="1096" stroke="#000" stroke-width="1.1" stroke-linecap="butt" />
<circle cx="179.35" cy="1052.08" r="2.9" fill="#f7651c"/>
<circle cx="187" cy="1055.48" r="2.9" fill="#f7651c"/>
<circle cx="183.32" cy="1074.75" r="2.9" fill="#f7651c"/>
<circle cx="183.32" cy="1097.42" r="2.9" fill="#f7651c"/>
<circle cx="183.32" cy="1128.02" r="2.9" fill="#f7651c"/>
<line x1="220.01" y1="1115.27" x2="220.01" y2="1132.83" stroke="#000" stroke-width="1.1" stroke-linecap="butt" />
<line x1="213.76" y1="1115.27" x2="226.26" y2="1115.27" stroke="#000" stroke-width="1.1" stroke-linecap="butt" />
<line x1="213.76" y1="1132.83" x2="226.26" y2="1132.83" stroke="#000" stroke-width="1.1" stroke-linecap="butt" />
<circle cx="216.75" cy="1105.07" r="2.9" fill="#b960e4"/>
<circle cx="223.83" cy="1105.07" r="2.9" fill="#b960e4"/>
<circle cx="220.15" cy="1123.77" r="2.9" fill="#b960e4"/>
<circle cx="220.15" cy="1138.5" r="2.9" fill="#b960e4"/>
<circle cx="220.15" cy="1149.27" r="2.9" fill="#b960e4"/>
<line x1="256.42" y1="1090.33" x2="256.42" y2="1100.82" stroke="#000" stroke-width="1.1" stroke-linecap="butt" />
<line x1="250.17" y1="1090.33" x2="262.67" y2="1090.33" stroke="#000" stroke-width="1.1" stroke-linecap="butt" />
<line x1="250.17" y1="1100.82" x2="262.67" y2="1100.82" stroke="#000" stroke-width="1.1" stroke-linecap="butt" />
<circle cx="256.42" cy="1083.82" r="2.9" fill="#18b818"/>
<circle cx="260.67" cy="1087.5" r="2.9" fill="#18b818"/>
<circle cx="256.42" cy="1094.58" r="2.9" fill="#18b818"/>
<circle cx="256.42" cy="1100.82" r="2.9" fill="#18b818"/>
<circle cx="256.42" cy="1113.57" r="2.9" fill="#18b818"/>
<line x1="292.97" y1="1115.27" x2="292.97" y2="1131.42" stroke="#000" stroke-width="1.1" stroke-linecap="butt" />
<line x1="286.72" y1="1115.27" x2="299.22" y2="1115.27" stroke="#000" stroke-width="1.1" stroke-linecap="butt" />
<line x1="286.72" y1="1131.42" x2="299.22" y2="1131.42" stroke="#000" stroke-width="1.1" stroke-linecap="butt" />
<circle cx="293.25" cy="1106.48" r="2.9" fill="#5a5cf2"/>
<circle cx="289" cy="1115.27" r="2.9" fill="#5a5cf2"/>
<circle cx="297.5" cy="1113.85" r="2.9" fill="#5a5cf2"/>
<circle cx="293.25" cy="1129.15" r="2.9" fill="#5a5cf2"/>
<circle cx="293.25" cy="1152.67" r="2.9" fill="#5a5cf2"/>
<line x1="187" y1="1004.77" x2="296.65" y2="1004.77" stroke="#000" stroke-width="1.95" stroke-linecap="butt" />
<text x="240.27" y="1007.04" font-size="20.5" text-anchor="middle" font-family='"Liberation Serif", serif' fill="#222" >*</text>
<line x1="187" y1="1028" x2="258.68" y2="1028" stroke="#000" stroke-width="1.95" stroke-linecap="butt" />
<text x="0" y="0" font-size="16.8" text-anchor="middle" font-family='"Liberation Sans", sans-serif' fill="#000" transform="translate(221.85 1023.8) scale(0.9 1)" >ns</text>
<line x1="142.52" y1="1046.42" x2="180.77" y2="1046.42" stroke="#000" stroke-width="1.95" stroke-linecap="butt" />
<text x="160.65" y="1048.69" font-size="20.5" text-anchor="middle" font-family='"Liberation Serif", serif' fill="#222" >****</text>
<line x1="187" y1="1046.42" x2="225.82" y2="1046.42" stroke="#000" stroke-width="1.95" stroke-linecap="butt" />
<text x="207.68" y="1048.69" font-size="20.5" text-anchor="middle" font-family='"Liberation Serif", serif' fill="#222" >*</text>
<text x="75.5" y="1115" font-size="20.8" text-anchor="middle" font-family='"Liberation Sans", sans-serif' fill="#000" transform="rotate(-90 75.5 1115)" >Growth inhibition (%)</text>
<text x="124" y="1227" font-size="16.5" text-anchor="end" font-family='"Liberation Sans", sans-serif' fill="#000" >Sal</text>
<line x1="141.55" y1="1222.2" x2="152.05" y2="1222.2" stroke="#222" stroke-width="1" stroke-linecap="butt" />
<line x1="178.05" y1="1222.2" x2="188.55" y2="1222.2" stroke="#222" stroke-width="1" stroke-linecap="butt" />
<line x1="183.3" y1="1216.95" x2="183.3" y2="1227.45" stroke="#222" stroke-width="1" stroke-linecap="butt" />
<line x1="214.85" y1="1222.2" x2="225.35" y2="1222.2" stroke="#222" stroke-width="1" stroke-linecap="butt" />
<line x1="220.1" y1="1216.95" x2="220.1" y2="1227.45" stroke="#222" stroke-width="1" stroke-linecap="butt" />
<line x1="251.15" y1="1222.2" x2="261.65" y2="1222.2" stroke="#222" stroke-width="1" stroke-linecap="butt" />
<line x1="256.4" y1="1216.95" x2="256.4" y2="1227.45" stroke="#222" stroke-width="1" stroke-linecap="butt" />
<line x1="289.35" y1="1222.2" x2="299.85" y2="1222.2" stroke="#222" stroke-width="1" stroke-linecap="butt" />
<line x1="294.6" y1="1216.95" x2="294.6" y2="1227.45" stroke="#222" stroke-width="1" stroke-linecap="butt" />
<text x="124" y="1245.7" font-size="16.5" text-anchor="end" font-family='"Liberation Sans", sans-serif' fill="#000" >Fer-1</text>
<line x1="141.55" y1="1241.3" x2="152.05" y2="1241.3" stroke="#222" stroke-width="1" stroke-linecap="butt" />
<line x1="178.05" y1="1241.3" x2="188.55" y2="1241.3" stroke="#222" stroke-width="1" stroke-linecap="butt" />
<line x1="214.85" y1="1241.3" x2="225.35" y2="1241.3" stroke="#222" stroke-width="1" stroke-linecap="butt" />
<line x1="220.1" y1="1236.05" x2="220.1" y2="1246.55" stroke="#222" stroke-width="1" stroke-linecap="butt" />
<line x1="251.15" y1="1241.3" x2="261.65" y2="1241.3" stroke="#222" stroke-width="1" stroke-linecap="butt" />
<line x1="289.35" y1="1241.3" x2="299.85" y2="1241.3" stroke="#222" stroke-width="1" stroke-linecap="butt" />
<text x="124" y="1265.3" font-size="16.5" text-anchor="end" font-family='"Liberation Sans", sans-serif' fill="#000" >Z-VAD-FMK</text>
<line x1="141.55" y1="1259.7" x2="152.05" y2="1259.7" stroke="#222" stroke-width="1" stroke-linecap="butt" />
<line x1="178.05" y1="1259.7" x2="188.55" y2="1259.7" stroke="#222" stroke-width="1" stroke-linecap="butt" />
<line x1="214.85" y1="1259.7" x2="225.35" y2="1259.7" stroke="#222" stroke-width="1" stroke-linecap="butt" />
<line x1="251.15" y1="1259.7" x2="261.65" y2="1259.7" stroke="#222" stroke-width="1" stroke-linecap="butt" />
<line x1="256.4" y1="1254.45" x2="256.4" y2="1264.95" stroke="#222" stroke-width="1" stroke-linecap="butt" />
<line x1="289.35" y1="1259.7" x2="299.85" y2="1259.7" stroke="#222" stroke-width="1" stroke-linecap="butt" />
<text x="124" y="1284" font-size="16.5" text-anchor="end" font-family='"Liberation Sans", sans-serif' fill="#000" >Nec-1</text>
<line x1="141.55" y1="1280" x2="152.05" y2="1280" stroke="#222" stroke-width="1" stroke-linecap="butt" />
<line x1="178.05" y1="1280" x2="188.55" y2="1280" stroke="#222" stroke-width="1" stroke-linecap="butt" />
<line x1="214.85" y1="1280" x2="225.35" y2="1280" stroke="#222" stroke-width="1" stroke-linecap="butt" />
<line x1="251.15" y1="1280" x2="261.65" y2="1280" stroke="#222" stroke-width="1" stroke-linecap="butt" />
<line x1="289.35" y1="1280" x2="299.85" y2="1280" stroke="#222" stroke-width="1" stroke-linecap="butt" />
<line x1="294.6" y1="1274.75" x2="294.6" y2="1285.25" stroke="#222" stroke-width="1" stroke-linecap="butt" />
<text x="345" y="974" font-size="34" text-anchor="start" font-family='"Liberation Sans", sans-serif' fill="#000" >I</text>
<rect x="453.96" y="1204.83" width="30.63" height="27.71" fill="#999999" stroke="none" stroke-width="0" />
<rect x="484.58" y="1074.45" width="30.63" height="158.08" fill="#0071bc" stroke="none" stroke-width="0" />
<rect x="545.25" y="1201.91" width="30.63" height="30.62" fill="#999999" stroke="none" stroke-width="0" />
<rect x="575.88" y="1129.87" width="30.63" height="102.67" fill="#0071bc" stroke="none" stroke-width="0" />
<line x1="438.8" y1="1030.8" x2="438.8" y2="1233.5" stroke="#000" stroke-width="1.65" stroke-linecap="butt" />
<line x1="431.6" y1="1232.6" x2="622.7" y2="1232.6" stroke="#000" stroke-width="1.55" stroke-linecap="butt" />
<line x1="431.6" y1="1232.53" x2="438.8" y2="1232.53" stroke="#000" stroke-width="1.6" stroke-linecap="butt" />
<text x="425.2" y="1237.03" font-size="16.5" text-anchor="end" font-family='"Liberation Sans", sans-serif' fill="#000" >0</text>
<line x1="431.6" y1="1165.74" x2="438.8" y2="1165.74" stroke="#000" stroke-width="1.6" stroke-linecap="butt" />
<text x="425.2" y="1170.24" font-size="16.5" text-anchor="end" font-family='"Liberation Sans", sans-serif' fill="#000" >20</text>
<line x1="431.6" y1="1098.95" x2="438.8" y2="1098.95" stroke="#000" stroke-width="1.6" stroke-linecap="butt" />
<text x="425.2" y="1103.45" font-size="16.5" text-anchor="end" font-family='"Liberation Sans", sans-serif' fill="#000" >40</text>
<line x1="431.6" y1="1032.16" x2="438.8" y2="1032.16" stroke="#000" stroke-width="1.6" stroke-linecap="butt" />
<text x="425.2" y="1036.66" font-size="16.5" text-anchor="end" font-family='"Liberation Sans", sans-serif' fill="#000" >60</text>
<line x1="469.27" y1="1199.87" x2="469.27" y2="1209.49" stroke="#000" stroke-width="1" stroke-linecap="butt" />
<line x1="461.52" y1="1199.87" x2="477.02" y2="1199.87" stroke="#000" stroke-width="1" stroke-linecap="butt" />
<line x1="461.52" y1="1209.49" x2="477.02" y2="1209.49" stroke="#000" stroke-width="1" stroke-linecap="butt" />
<line x1="499.9" y1="1061.91" x2="499.9" y2="1086.99" stroke="#000" stroke-width="1" stroke-linecap="butt" />
<line x1="492.15" y1="1061.91" x2="507.65" y2="1061.91" stroke="#000" stroke-width="1" stroke-linecap="butt" />
<line x1="492.15" y1="1086.99" x2="507.65" y2="1086.99" stroke="#000" stroke-width="1" stroke-linecap="butt" />
<circle cx="472.92" cy="1194.03" r="2.6" fill="#000"/>
<circle cx="461.25" cy="1197.83" r="2.6" fill="#000"/>
<circle cx="465.04" cy="1202.78" r="2.6" fill="#000"/>
<circle cx="472.92" cy="1206.58" r="2.6" fill="#000"/>
<circle cx="469.12" cy="1222.33" r="2.6" fill="#000"/>
<circle cx="502.96" cy="1051.12" r="2.6" fill="#000"/>
<circle cx="495.67" cy="1056.08" r="2.6" fill="#000"/>
<circle cx="495.67" cy="1069.2" r="2.6" fill="#000"/>
<circle cx="502.96" cy="1072.99" r="2.6" fill="#000"/>
<circle cx="499.17" cy="1121.7" r="2.6" fill="#000"/>
<line x1="462.12" y1="1042.37" x2="503.54" y2="1042.37" stroke="#000" stroke-width="1.95" stroke-linecap="butt" />
<text x="482.83" y="1043.15" font-size="18.8" text-anchor="middle" font-family='"Liberation Serif", serif' fill="#222" >***</text>
<text x="484.58" y="1257" font-size="19.3" text-anchor="middle" font-family='"Liberation Sans", sans-serif' fill="#000" >ACHN</text>
<line x1="560.56" y1="1198.41" x2="560.56" y2="1205.12" stroke="#000" stroke-width="1" stroke-linecap="butt" />
<line x1="552.81" y1="1198.41" x2="568.31" y2="1198.41" stroke="#000" stroke-width="1" stroke-linecap="butt" />
<line x1="552.81" y1="1205.12" x2="568.31" y2="1205.12" stroke="#000" stroke-width="1" stroke-linecap="butt" />
<line x1="591.19" y1="1116.16" x2="591.19" y2="1142.12" stroke="#000" stroke-width="1" stroke-linecap="butt" />
<line x1="583.44" y1="1116.16" x2="598.94" y2="1116.16" stroke="#000" stroke-width="1" stroke-linecap="butt" />
<line x1="583.44" y1="1142.12" x2="598.94" y2="1142.12" stroke="#000" stroke-width="1" stroke-linecap="butt" />
<circle cx="553.12" cy="1195.49" r="2.6" fill="#000"/>
<circle cx="564.21" cy="1194.62" r="2.6" fill="#000"/>
<circle cx="556.62" cy="1201.33" r="2.6" fill="#000"/>
<circle cx="564.21" cy="1205.12" r="2.6" fill="#000"/>
<circle cx="560.42" cy="1213.58" r="2.6" fill="#000"/>
<circle cx="591.04" cy="1088.45" r="2.6" fill="#000"/>
<circle cx="591.04" cy="1121.99" r="2.6" fill="#000"/>
<circle cx="586.67" cy="1124.91" r="2.6" fill="#000"/>
<circle cx="591.04" cy="1147.37" r="2.6" fill="#000"/>
<circle cx="591.04" cy="1165.74" r="2.6" fill="#000"/>
<line x1="553.71" y1="1079.41" x2="594.83" y2="1079.41" stroke="#000" stroke-width="1.95" stroke-linecap="butt" />
<text x="574.27" y="1080.19" font-size="18.8" text-anchor="middle" font-family='"Liberation Serif", serif' fill="#222" >***</text>
<text x="575.88" y="1257" font-size="19.3" text-anchor="middle" font-family='"Liberation Sans", sans-serif' fill="#000" >786-O</text>
<rect x="447.3" y="991.9" width="21.3" height="8.5" fill="#999999" stroke="none" stroke-width="0" />
<rect x="447.3" y="1005.3" width="21.3" height="8.5" fill="#0071bc" stroke="none" stroke-width="0" />
<text x="474.9" y="999.6" font-size="14.1" text-anchor="start" font-family='"Liberation Sans", sans-serif' fill="#000" >DMSO</text>
<text x="474.9" y="1013.2" font-size="14.1" text-anchor="start" font-family='"Liberation Sans", sans-serif' fill="#000" >Sal</text>
<text x="391.5" y="1128.5" font-size="18.5" text-anchor="middle" font-family='"Liberation Sans", sans-serif' fill="#000" transform="rotate(-90 391.5 1128.5)">BODIPY C11<tspan font-size="11" dy="-6">+</tspan><tspan dy="6"> cells (%)</tspan></text>
<text x="646" y="974" font-size="34" text-anchor="start" font-family='"Liberation Sans", sans-serif' fill="#000" >J</text>
<rect x="756.88" y="1175.25" width="29.31" height="56.58" fill="#999999" stroke="none" stroke-width="0" />
<rect x="786.19" y="1131.21" width="29.31" height="100.63" fill="#0071bc" stroke="none" stroke-width="0" />
<rect x="844.96" y="1184.88" width="29.31" height="46.96" fill="#999999" stroke="none" stroke-width="0" />
<rect x="874.27" y="1118.38" width="29.31" height="113.46" fill="#0071bc" stroke="none" stroke-width="0" />
<line x1="742.4" y1="1030" x2="742.4" y2="1232.8" stroke="#000" stroke-width="1.65" stroke-linecap="butt" />
<line x1="735.2" y1="1231.9" x2="919.8" y2="1231.9" stroke="#000" stroke-width="1.55" stroke-linecap="butt" />
<line x1="735.2" y1="1231.83" x2="742.4" y2="1231.83" stroke="#000" stroke-width="1.6" stroke-linecap="butt" />
<text x="728.7" y="1236.33" font-size="16.5" text-anchor="end" font-family='"Liberation Sans", sans-serif' fill="#000" >0</text>
<line x1="735.2" y1="1191.73" x2="742.4" y2="1191.73" stroke="#000" stroke-width="1.6" stroke-linecap="butt" />
<text x="728.7" y="1196.23" font-size="16.5" text-anchor="end" font-family='"Liberation Sans", sans-serif' fill="#000" >1</text>
<line x1="735.2" y1="1151.63" x2="742.4" y2="1151.63" stroke="#000" stroke-width="1.6" stroke-linecap="butt" />
<text x="728.7" y="1156.13" font-size="16.5" text-anchor="end" font-family='"Liberation Sans", sans-serif' fill="#000" >2</text>
<line x1="735.2" y1="1111.52" x2="742.4" y2="1111.52" stroke="#000" stroke-width="1.6" stroke-linecap="butt" />
<text x="728.7" y="1116.02" font-size="16.5" text-anchor="end" font-family='"Liberation Sans", sans-serif' fill="#000" >3</text>
<line x1="735.2" y1="1071.42" x2="742.4" y2="1071.42" stroke="#000" stroke-width="1.6" stroke-linecap="butt" />
<text x="728.7" y="1075.92" font-size="16.5" text-anchor="end" font-family='"Liberation Sans", sans-serif' fill="#000" >4</text>
<line x1="771.53" y1="1169.12" x2="771.53" y2="1181.67" stroke="#000" stroke-width="1" stroke-linecap="butt" />
<line x1="763.78" y1="1169.12" x2="779.28" y2="1169.12" stroke="#000" stroke-width="1" stroke-linecap="butt" />
<line x1="763.78" y1="1181.67" x2="779.28" y2="1181.67" stroke="#000" stroke-width="1" stroke-linecap="butt" />
<line x1="800.84" y1="1115.46" x2="800.84" y2="1146.08" stroke="#000" stroke-width="1" stroke-linecap="butt" />
<line x1="793.09" y1="1115.46" x2="808.59" y2="1115.46" stroke="#000" stroke-width="1" stroke-linecap="butt" />
<line x1="793.09" y1="1146.08" x2="808.59" y2="1146.08" stroke="#000" stroke-width="1" stroke-linecap="butt" />
<circle cx="771.46" cy="1154.54" r="2.6" fill="#000"/>
<circle cx="771.46" cy="1173.79" r="2.6" fill="#000"/>
<circle cx="767.67" cy="1175.83" r="2.6" fill="#000"/>
<circle cx="774.96" cy="1180.21" r="2.6" fill="#000"/>
<circle cx="771.46" cy="1192.46" r="2.6" fill="#000"/>
<circle cx="800.62" cy="1090.38" r="2.6" fill="#000"/>
<circle cx="800.62" cy="1110.79" r="2.6" fill="#000"/>
<circle cx="800.62" cy="1119.54" r="2.6" fill="#000"/>
<circle cx="797.12" cy="1167.67" r="2.6" fill="#000"/>
<circle cx="804.12" cy="1167.67" r="2.6" fill="#000"/>
<line x1="760.38" y1="1078.12" x2="802.08" y2="1078.12" stroke="#000" stroke-width="1.95" stroke-linecap="butt" />
<text x="781.23" y="1078.91" font-size="18.8" text-anchor="middle" font-family='"Liberation Serif", serif' fill="#222" >*</text>
<text x="786.19" y="1257" font-size="19.3" text-anchor="middle" font-family='"Liberation Sans", sans-serif' fill="#000" >ACHN</text>
<line x1="859.61" y1="1178.17" x2="859.61" y2="1191.29" stroke="#000" stroke-width="1" stroke-linecap="butt" />
<line x1="851.86" y1="1178.17" x2="867.36" y2="1178.17" stroke="#000" stroke-width="1" stroke-linecap="butt" />
<line x1="851.86" y1="1191.29" x2="867.36" y2="1191.29" stroke="#000" stroke-width="1" stroke-linecap="butt" />
<line x1="888.93" y1="1106.42" x2="888.93" y2="1130.62" stroke="#000" stroke-width="1" stroke-linecap="butt" />
<line x1="881.18" y1="1106.42" x2="896.68" y2="1106.42" stroke="#000" stroke-width="1" stroke-linecap="butt" />
<line x1="881.18" y1="1130.62" x2="896.68" y2="1130.62" stroke="#000" stroke-width="1" stroke-linecap="butt" />
<circle cx="859.54" cy="1167.96" r="2.6" fill="#000"/>
<circle cx="859.54" cy="1177.29" r="2.6" fill="#000"/>
<circle cx="856.04" cy="1185.17" r="2.6" fill="#000"/>
<circle cx="862.75" cy="1185.17" r="2.6" fill="#000"/>
<circle cx="859.54" cy="1207.92" r="2.6" fill="#000"/>
<circle cx="888.71" cy="1085.42" r="2.6" fill="#000"/>
<circle cx="888.71" cy="1097.96" r="2.6" fill="#000"/>
<circle cx="888.71" cy="1122.46" r="2.6" fill="#000"/>
<circle cx="888.71" cy="1134.12" r="2.6" fill="#000"/>
<circle cx="888.71" cy="1153.38" r="2.6" fill="#000"/>
<line x1="861.88" y1="1073.17" x2="903.29" y2="1073.17" stroke="#000" stroke-width="1.95" stroke-linecap="butt" />
<text x="882.58" y="1073.95" font-size="18.8" text-anchor="middle" font-family='"Liberation Serif", serif' fill="#222" >**</text>
<text x="874.27" y="1257" font-size="19.3" text-anchor="middle" font-family='"Liberation Sans", sans-serif' fill="#000" >786-O</text>
<rect x="752.5" y="998.9" width="21.3" height="8.5" fill="#999999" stroke="none" stroke-width="0" />
<rect x="752.5" y="1012.5" width="21.3" height="8.5" fill="#0071bc" stroke="none" stroke-width="0" />
<text x="779.9" y="1006.6" font-size="14.1" text-anchor="start" font-family='"Liberation Sans", sans-serif' fill="#000" >DMSO</text>
<text x="779.9" y="1020.4" font-size="14.1" text-anchor="start" font-family='"Liberation Sans", sans-serif' fill="#000" >Sal</text>
<text x="701.5" y="1128.5" font-size="18.3" text-anchor="middle" font-family='"Liberation Sans", sans-serif' fill="#000" transform="rotate(-90 701.5 1128.5)">Fold change of Fe<tspan font-size="11" dy="-6">2+</tspan><tspan dy="6"> concentration</tspan></text></svg></body></html>
